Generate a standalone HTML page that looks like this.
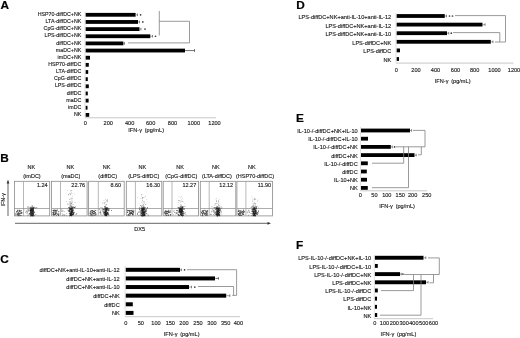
<!DOCTYPE html><html><head><meta charset="utf-8"><style>html,body{margin:0;padding:0;background:#fff;width:520px;height:338px;overflow:hidden}svg{display:block;font-family:"Liberation Sans",sans-serif;filter:grayscale(1) blur(0.3px)}</style></head><body>
<svg width="520" height="338" viewBox="0 0 520 338">
<rect width="520" height="338" fill="#fff"/>
<text x="0.60" y="9.10" font-size="11.8" text-anchor="start" fill="#000" font-weight="bold" stroke="#000" stroke-width="0.2" >A</text>
<rect x="85.50" y="12.90" width="50.10" height="3.80" fill="#000" />
<text x="81.30" y="15.95" font-size="5.3" text-anchor="end" fill="#1a1a1a" font-weight="normal" stroke="#1a1a1a" stroke-width="0.13" >HSP70-diffDC+NK</text>
<rect x="85.50" y="20.05" width="52.50" height="3.80" fill="#000" />
<text x="81.30" y="23.10" font-size="5.3" text-anchor="end" fill="#1a1a1a" font-weight="normal" stroke="#1a1a1a" stroke-width="0.13" >LTA-diffDC+NK</text>
<rect x="85.50" y="27.20" width="54.00" height="3.80" fill="#000" />
<text x="81.30" y="30.25" font-size="5.3" text-anchor="end" fill="#1a1a1a" font-weight="normal" stroke="#1a1a1a" stroke-width="0.13" >CpG-diffDC+NK</text>
<rect x="85.50" y="34.35" width="64.80" height="3.80" fill="#000" />
<text x="81.30" y="37.40" font-size="5.3" text-anchor="end" fill="#1a1a1a" font-weight="normal" stroke="#1a1a1a" stroke-width="0.13" >LPS-diffDC+NK</text>
<rect x="85.50" y="41.50" width="37.90" height="3.80" fill="#000" />
<text x="81.30" y="44.55" font-size="5.3" text-anchor="end" fill="#1a1a1a" font-weight="normal" stroke="#1a1a1a" stroke-width="0.13" >diffDC+NK</text>
<rect x="85.50" y="48.65" width="99.50" height="3.80" fill="#000" />
<text x="81.30" y="51.70" font-size="5.3" text-anchor="end" fill="#1a1a1a" font-weight="normal" stroke="#1a1a1a" stroke-width="0.13" >maDC+NK</text>
<rect x="85.50" y="55.80" width="4.50" height="3.80" fill="#000" />
<text x="81.30" y="58.85" font-size="5.3" text-anchor="end" fill="#1a1a1a" font-weight="normal" stroke="#1a1a1a" stroke-width="0.13" >imDC+NK</text>
<rect x="85.50" y="62.95" width="3.30" height="3.80" fill="#000" />
<text x="81.30" y="66.00" font-size="5.3" text-anchor="end" fill="#1a1a1a" font-weight="normal" stroke="#1a1a1a" stroke-width="0.13" >HSP70-diffDC</text>
<rect x="85.50" y="70.10" width="2.70" height="3.80" fill="#000" />
<text x="81.30" y="73.15" font-size="5.3" text-anchor="end" fill="#1a1a1a" font-weight="normal" stroke="#1a1a1a" stroke-width="0.13" >LTA-diffDC</text>
<rect x="85.50" y="77.25" width="2.30" height="3.80" fill="#000" />
<text x="81.30" y="80.30" font-size="5.3" text-anchor="end" fill="#1a1a1a" font-weight="normal" stroke="#1a1a1a" stroke-width="0.13" >CpG-diffDC</text>
<rect x="85.50" y="84.40" width="3.30" height="3.80" fill="#000" />
<text x="81.30" y="87.45" font-size="5.3" text-anchor="end" fill="#1a1a1a" font-weight="normal" stroke="#1a1a1a" stroke-width="0.13" >LPS-diffDC</text>
<rect x="85.50" y="91.55" width="2.30" height="3.80" fill="#000" />
<text x="81.30" y="94.60" font-size="5.3" text-anchor="end" fill="#1a1a1a" font-weight="normal" stroke="#1a1a1a" stroke-width="0.13" >diffDC</text>
<rect x="85.50" y="98.70" width="3.10" height="3.80" fill="#000" />
<text x="81.30" y="101.75" font-size="5.3" text-anchor="end" fill="#1a1a1a" font-weight="normal" stroke="#1a1a1a" stroke-width="0.13" >maDC</text>
<rect x="85.50" y="105.85" width="2.00" height="3.80" fill="#000" />
<text x="81.30" y="108.90" font-size="5.3" text-anchor="end" fill="#1a1a1a" font-weight="normal" stroke="#1a1a1a" stroke-width="0.13" >imDC</text>
<rect x="85.50" y="113.00" width="3.70" height="3.80" fill="#000" />
<text x="81.30" y="116.05" font-size="5.3" text-anchor="end" fill="#1a1a1a" font-weight="normal" stroke="#1a1a1a" stroke-width="0.13" >NK</text>
<line x1="85.00" y1="11.50" x2="85.00" y2="117.80" stroke="#dadada" stroke-width="0.8"/>
<line x1="85.00" y1="117.80" x2="216.00" y2="117.80" stroke="#c8c8c8" stroke-width="1.0"/>
<text x="85.40" y="125.00" font-size="5.6" text-anchor="middle" fill="#1a1a1a" font-weight="normal" stroke="#1a1a1a" stroke-width="0.13" >0</text>
<text x="108.20" y="125.00" font-size="5.6" text-anchor="middle" fill="#1a1a1a" font-weight="normal" stroke="#1a1a1a" stroke-width="0.13" >200</text>
<text x="129.60" y="125.00" font-size="5.6" text-anchor="middle" fill="#1a1a1a" font-weight="normal" stroke="#1a1a1a" stroke-width="0.13" >400</text>
<text x="150.60" y="125.00" font-size="5.6" text-anchor="middle" fill="#1a1a1a" font-weight="normal" stroke="#1a1a1a" stroke-width="0.13" >600</text>
<text x="172.50" y="125.00" font-size="5.6" text-anchor="middle" fill="#1a1a1a" font-weight="normal" stroke="#1a1a1a" stroke-width="0.13" >800</text>
<text x="193.80" y="125.00" font-size="5.6" text-anchor="middle" fill="#1a1a1a" font-weight="normal" stroke="#1a1a1a" stroke-width="0.13" >1000</text>
<text x="214.50" y="125.00" font-size="5.6" text-anchor="middle" fill="#1a1a1a" font-weight="normal" stroke="#1a1a1a" stroke-width="0.13" >1200</text>
<text x="128.30" y="132.20" font-size="5.6" fill="#1a1a1a" stroke="#1a1a1a" stroke-width="0.13">IFN-γ<tspan dx="2.76">(pg/mL)</tspan></text>
<line x1="135.60" y1="14.80" x2="137.50" y2="14.80" stroke="#666" stroke-width="0.6"/>
<line x1="137.50" y1="13.50" x2="137.50" y2="16.10" stroke="#555" stroke-width="0.7"/>
<circle cx="140.60" cy="14.80" r="0.85" fill="#3a3a3a"/>
<line x1="138.00" y1="21.95" x2="139.50" y2="21.95" stroke="#666" stroke-width="0.6"/>
<line x1="139.50" y1="20.65" x2="139.50" y2="23.25" stroke="#555" stroke-width="0.7"/>
<circle cx="142.80" cy="21.95" r="0.85" fill="#3a3a3a"/>
<line x1="139.50" y1="29.10" x2="141.00" y2="29.10" stroke="#666" stroke-width="0.6"/>
<line x1="141.00" y1="27.80" x2="141.00" y2="30.40" stroke="#555" stroke-width="0.7"/>
<circle cx="145.00" cy="29.10" r="0.85" fill="#3a3a3a"/>
<line x1="150.30" y1="36.25" x2="152.50" y2="36.25" stroke="#666" stroke-width="0.6"/>
<line x1="152.50" y1="34.95" x2="152.50" y2="37.55" stroke="#555" stroke-width="0.7"/>
<circle cx="155.50" cy="36.25" r="0.85" fill="#3a3a3a"/>
<line x1="123.40" y1="43.40" x2="124.50" y2="43.40" stroke="#666" stroke-width="0.6"/>
<line x1="124.50" y1="42.10" x2="124.50" y2="44.70" stroke="#555" stroke-width="0.7"/>
<line x1="185.00" y1="50.55" x2="194.50" y2="50.55" stroke="#444" stroke-width="0.75"/>
<line x1="194.50" y1="49.05" x2="194.50" y2="52.05" stroke="#444" stroke-width="0.7"/>
<line x1="159.30" y1="11.00" x2="159.30" y2="35.50" stroke="#808080" stroke-width="0.8"/>
<polyline points="159.30,21.30 189.50,21.30 189.50,42.90 128.00,42.90" fill="none" stroke="#808080" stroke-width="0.8"/>
<text x="0.20" y="161.50" font-size="11.8" text-anchor="start" fill="#000" font-weight="bold" stroke="#000" stroke-width="0.2" >B</text>
<line x1="8.00" y1="183.00" x2="8.00" y2="216.00" stroke="#888" stroke-width="1.3"/>
<polygon points="6.6,183.5 9.4,183.5 8,179.6" fill="#333"/>
<text x="0.00" y="0.00" font-size="5.5" text-anchor="middle" fill="#1a1a1a" font-weight="normal" stroke="#1a1a1a" stroke-width="0.13" transform="translate(5.2,199.8) rotate(-90)">IFN-γ</text>
<text x="31.25" y="168.90" font-size="5.5" text-anchor="middle" fill="#1a1a1a" font-weight="normal" stroke="#1a1a1a" stroke-width="0.13" >NK</text>
<text x="32.00" y="178.20" font-size="5.5" text-anchor="middle" fill="#1a1a1a" font-weight="normal" stroke="#1a1a1a" stroke-width="0.13" >(imDC)</text>
<rect x="14.40" y="181.30" width="35.30" height="34.60" fill="none" stroke="#8a8a8a" stroke-width="0.8"/>
<line x1="23.50" y1="181.30" x2="23.50" y2="215.90" stroke="#9a9a9a" stroke-width="0.7"/>
<line x1="14.40" y1="208.50" x2="49.70" y2="208.50" stroke="#8a8a8a" stroke-width="0.7"/>
<text x="47.60" y="187.10" font-size="5.5" text-anchor="end" fill="#1a1a1a" font-weight="normal" stroke="#1a1a1a" stroke-width="0.13" >1.24</text>
<text x="70.25" y="168.90" font-size="5.5" text-anchor="middle" fill="#1a1a1a" font-weight="normal" stroke="#1a1a1a" stroke-width="0.13" >NK</text>
<text x="70.75" y="178.20" font-size="5.5" text-anchor="middle" fill="#1a1a1a" font-weight="normal" stroke="#1a1a1a" stroke-width="0.13" >(maDC)</text>
<rect x="51.50" y="181.30" width="35.60" height="34.60" fill="none" stroke="#8a8a8a" stroke-width="0.8"/>
<line x1="60.50" y1="181.30" x2="60.50" y2="215.90" stroke="#9a9a9a" stroke-width="0.7"/>
<line x1="51.50" y1="208.50" x2="87.10" y2="208.50" stroke="#8a8a8a" stroke-width="0.7"/>
<text x="85.10" y="187.10" font-size="5.5" text-anchor="end" fill="#1a1a1a" font-weight="normal" stroke="#1a1a1a" stroke-width="0.13" >22.76</text>
<text x="106.50" y="168.90" font-size="5.5" text-anchor="middle" fill="#1a1a1a" font-weight="normal" stroke="#1a1a1a" stroke-width="0.13" >NK</text>
<text x="107.75" y="178.20" font-size="5.5" text-anchor="middle" fill="#1a1a1a" font-weight="normal" stroke="#1a1a1a" stroke-width="0.13" >(diffDC)</text>
<rect x="88.60" y="181.30" width="35.60" height="34.60" fill="none" stroke="#8a8a8a" stroke-width="0.8"/>
<line x1="98.30" y1="181.30" x2="98.30" y2="215.90" stroke="#9a9a9a" stroke-width="0.7"/>
<line x1="88.60" y1="208.50" x2="124.20" y2="208.50" stroke="#8a8a8a" stroke-width="0.7"/>
<text x="121.20" y="187.10" font-size="5.5" text-anchor="end" fill="#1a1a1a" font-weight="normal" stroke="#1a1a1a" stroke-width="0.13" >8.60</text>
<text x="142.40" y="168.90" font-size="5.5" text-anchor="middle" fill="#1a1a1a" font-weight="normal" stroke="#1a1a1a" stroke-width="0.13" >NK</text>
<text x="143.75" y="178.20" font-size="5.5" text-anchor="middle" fill="#1a1a1a" font-weight="normal" stroke="#1a1a1a" stroke-width="0.13" >(LPS-diffDC)</text>
<rect x="126.30" y="181.30" width="35.50" height="34.60" fill="none" stroke="#8a8a8a" stroke-width="0.8"/>
<line x1="135.40" y1="181.30" x2="135.40" y2="215.90" stroke="#9a9a9a" stroke-width="0.7"/>
<line x1="126.30" y1="208.50" x2="161.80" y2="208.50" stroke="#8a8a8a" stroke-width="0.7"/>
<text x="160.10" y="187.10" font-size="5.5" text-anchor="end" fill="#1a1a1a" font-weight="normal" stroke="#1a1a1a" stroke-width="0.13" >16.30</text>
<text x="180.00" y="168.90" font-size="5.5" text-anchor="middle" fill="#1a1a1a" font-weight="normal" stroke="#1a1a1a" stroke-width="0.13" >NK</text>
<text x="181.25" y="178.20" font-size="5.5" text-anchor="middle" fill="#1a1a1a" font-weight="normal" stroke="#1a1a1a" stroke-width="0.13" >(CpG-diffDC)</text>
<rect x="163.20" y="181.30" width="35.40" height="34.60" fill="none" stroke="#8a8a8a" stroke-width="0.8"/>
<line x1="172.00" y1="181.30" x2="172.00" y2="215.90" stroke="#9a9a9a" stroke-width="0.7"/>
<line x1="163.20" y1="208.50" x2="198.60" y2="208.50" stroke="#8a8a8a" stroke-width="0.7"/>
<text x="196.20" y="187.10" font-size="5.5" text-anchor="end" fill="#1a1a1a" font-weight="normal" stroke="#1a1a1a" stroke-width="0.13" >12.27</text>
<text x="215.75" y="168.90" font-size="5.5" text-anchor="middle" fill="#1a1a1a" font-weight="normal" stroke="#1a1a1a" stroke-width="0.13" >NK</text>
<text x="216.90" y="178.20" font-size="5.5" text-anchor="middle" fill="#1a1a1a" font-weight="normal" stroke="#1a1a1a" stroke-width="0.13" >(LTA-diffDC)</text>
<rect x="200.30" y="181.30" width="35.50" height="34.60" fill="none" stroke="#8a8a8a" stroke-width="0.8"/>
<line x1="209.20" y1="181.30" x2="209.20" y2="215.90" stroke="#9a9a9a" stroke-width="0.7"/>
<line x1="200.30" y1="208.50" x2="235.80" y2="208.50" stroke="#8a8a8a" stroke-width="0.7"/>
<text x="233.10" y="187.10" font-size="5.5" text-anchor="end" fill="#1a1a1a" font-weight="normal" stroke="#1a1a1a" stroke-width="0.13" >12.12</text>
<text x="251.75" y="168.90" font-size="5.5" text-anchor="middle" fill="#1a1a1a" font-weight="normal" stroke="#1a1a1a" stroke-width="0.13" >NK</text>
<text x="255.00" y="178.20" font-size="5.5" text-anchor="middle" fill="#1a1a1a" font-weight="normal" stroke="#1a1a1a" stroke-width="0.13" >(HSP70-diffDC)</text>
<rect x="236.90" y="181.30" width="35.50" height="34.60" fill="none" stroke="#8a8a8a" stroke-width="0.8"/>
<line x1="245.90" y1="181.30" x2="245.90" y2="215.90" stroke="#9a9a9a" stroke-width="0.7"/>
<line x1="236.90" y1="208.50" x2="272.40" y2="208.50" stroke="#8a8a8a" stroke-width="0.7"/>
<text x="271.20" y="187.10" font-size="5.5" text-anchor="end" fill="#1a1a1a" font-weight="normal" stroke="#1a1a1a" stroke-width="0.13" >11.90</text>
<path fill="#4a4a4a" d="M16.7 212.8h0.8v0.8h-0.8zM17.6 213.1h0.8v0.8h-0.8zM19.2 210.0h0.8v0.8h-0.8zM15.3 214.5h0.8v0.8h-0.8zM16.9 211.0h0.8v0.8h-0.8zM21.6 212.3h0.8v0.8h-0.8zM20.6 212.4h0.8v0.8h-0.8zM19.3 210.5h0.8v0.8h-0.8zM19.3 214.6h0.8v0.8h-0.8zM18.5 213.9h0.8v0.8h-0.8zM19.5 210.0h0.8v0.8h-0.8zM20.1 213.0h0.8v0.8h-0.8zM17.1 209.8h0.8v0.8h-0.8zM20.7 212.3h0.8v0.8h-0.8zM19.8 214.7h0.8v0.8h-0.8zM19.8 214.9h0.8v0.8h-0.8zM17.7 214.2h0.8v0.8h-0.8zM18.0 215.0h0.8v0.8h-0.8zM20.8 210.2h0.8v0.8h-0.8zM16.1 210.9h0.8v0.8h-0.8zM21.4 212.1h0.8v0.8h-0.8zM19.2 211.3h0.8v0.8h-0.8zM18.4 211.8h0.8v0.8h-0.8zM17.4 213.0h0.8v0.8h-0.8zM18.9 214.8h0.8v0.8h-0.8zM19.6 215.0h0.8v0.8h-0.8zM20.7 215.3h0.8v0.8h-0.8zM19.5 210.5h0.8v0.8h-0.8zM20.7 215.2h0.8v0.8h-0.8zM21.0 212.9h0.8v0.8h-0.8zM19.8 210.8h0.8v0.8h-0.8zM20.5 212.9h0.8v0.8h-0.8zM17.0 210.0h0.8v0.8h-0.8zM20.7 215.3h0.8v0.8h-0.8zM15.8 214.2h0.8v0.8h-0.8zM17.8 210.5h0.8v0.8h-0.8zM17.1 214.1h0.8v0.8h-0.8zM20.8 209.9h0.8v0.8h-0.8zM19.1 209.9h0.8v0.8h-0.8zM19.8 211.5h0.8v0.8h-0.8zM20.8 215.3h0.8v0.8h-0.8zM18.4 215.4h0.8v0.8h-0.8zM17.2 210.0h0.8v0.8h-0.8zM19.0 209.8h0.8v0.8h-0.8zM16.5 212.0h0.8v0.8h-0.8zM19.1 210.5h0.8v0.8h-0.8zM15.5 214.6h0.8v0.8h-0.8zM17.2 215.2h0.8v0.8h-0.8zM20.9 211.8h0.8v0.8h-0.8zM18.1 212.6h0.8v0.8h-0.8zM19.3 213.1h0.8v0.8h-0.8zM18.8 213.2h0.8v0.8h-0.8zM21.2 212.5h0.8v0.8h-0.8zM18.0 213.8h0.8v0.8h-0.8zM16.7 211.3h0.8v0.8h-0.8zM21.5 212.6h0.8v0.8h-0.8zM18.7 209.7h0.8v0.8h-0.8zM17.9 213.0h0.8v0.8h-0.8zM15.3 213.2h0.8v0.8h-0.8zM19.2 209.9h0.8v0.8h-0.8zM53.2 211.9h0.8v0.8h-0.8zM53.5 212.7h0.8v0.8h-0.8zM55.9 210.8h0.8v0.8h-0.8zM53.9 214.1h0.8v0.8h-0.8zM52.5 214.3h0.8v0.8h-0.8zM58.0 215.1h0.8v0.8h-0.8zM54.8 212.8h0.8v0.8h-0.8zM56.0 213.3h0.8v0.8h-0.8zM58.6 213.6h0.8v0.8h-0.8zM54.2 214.6h0.8v0.8h-0.8zM55.4 213.1h0.8v0.8h-0.8zM57.0 209.6h0.8v0.8h-0.8zM57.2 213.4h0.8v0.8h-0.8zM55.4 212.6h0.8v0.8h-0.8zM55.2 210.7h0.8v0.8h-0.8zM55.7 209.8h0.8v0.8h-0.8zM55.5 213.3h0.8v0.8h-0.8zM55.1 212.9h0.8v0.8h-0.8zM58.4 214.8h0.8v0.8h-0.8zM53.2 214.2h0.8v0.8h-0.8zM56.3 209.9h0.8v0.8h-0.8zM54.6 211.0h0.8v0.8h-0.8zM52.8 212.7h0.8v0.8h-0.8zM58.3 211.5h0.8v0.8h-0.8zM57.9 213.6h0.8v0.8h-0.8zM53.2 214.6h0.8v0.8h-0.8zM56.1 215.0h0.8v0.8h-0.8zM56.9 213.9h0.8v0.8h-0.8zM54.5 214.3h0.8v0.8h-0.8zM58.3 214.6h0.8v0.8h-0.8zM55.1 214.0h0.8v0.8h-0.8zM55.4 210.2h0.8v0.8h-0.8zM52.6 210.1h0.8v0.8h-0.8zM53.6 210.5h0.8v0.8h-0.8zM55.5 213.7h0.8v0.8h-0.8zM55.7 212.0h0.8v0.8h-0.8zM56.5 211.4h0.8v0.8h-0.8zM55.3 214.0h0.8v0.8h-0.8zM54.9 210.6h0.8v0.8h-0.8zM58.1 213.8h0.8v0.8h-0.8zM54.6 211.8h0.8v0.8h-0.8zM55.7 213.1h0.8v0.8h-0.8zM53.7 209.6h0.8v0.8h-0.8zM53.6 214.1h0.8v0.8h-0.8zM53.2 212.3h0.8v0.8h-0.8zM53.5 210.8h0.8v0.8h-0.8zM53.4 211.9h0.8v0.8h-0.8zM53.4 209.8h0.8v0.8h-0.8zM53.0 210.6h0.8v0.8h-0.8zM55.4 209.9h0.8v0.8h-0.8zM52.4 212.2h0.8v0.8h-0.8zM54.9 213.7h0.8v0.8h-0.8zM52.6 211.9h0.8v0.8h-0.8zM54.8 209.8h0.8v0.8h-0.8zM58.5 210.9h0.8v0.8h-0.8zM52.9 212.4h0.8v0.8h-0.8zM53.4 213.2h0.8v0.8h-0.8zM54.5 210.3h0.8v0.8h-0.8zM52.6 213.8h0.8v0.8h-0.8zM54.1 214.2h0.8v0.8h-0.8zM93.1 214.7h0.8v0.8h-0.8zM90.7 211.9h0.8v0.8h-0.8zM90.0 213.3h0.8v0.8h-0.8zM89.6 215.0h0.8v0.8h-0.8zM92.8 212.9h0.8v0.8h-0.8zM89.9 210.9h0.8v0.8h-0.8zM92.4 214.6h0.8v0.8h-0.8zM92.8 211.3h0.8v0.8h-0.8zM95.7 213.4h0.8v0.8h-0.8zM92.8 210.8h0.8v0.8h-0.8zM91.3 214.8h0.8v0.8h-0.8zM90.3 212.7h0.8v0.8h-0.8zM93.4 211.7h0.8v0.8h-0.8zM94.3 214.9h0.8v0.8h-0.8zM94.9 213.9h0.8v0.8h-0.8zM90.7 209.9h0.8v0.8h-0.8zM92.2 211.4h0.8v0.8h-0.8zM90.6 214.7h0.8v0.8h-0.8zM90.8 214.4h0.8v0.8h-0.8zM95.4 210.3h0.8v0.8h-0.8zM95.2 211.9h0.8v0.8h-0.8zM90.8 210.7h0.8v0.8h-0.8zM89.6 212.5h0.8v0.8h-0.8zM91.9 214.5h0.8v0.8h-0.8zM94.7 209.9h0.8v0.8h-0.8zM92.0 211.9h0.8v0.8h-0.8zM90.5 211.1h0.8v0.8h-0.8zM91.1 213.6h0.8v0.8h-0.8zM91.6 210.2h0.8v0.8h-0.8zM90.8 212.2h0.8v0.8h-0.8zM93.0 211.0h0.8v0.8h-0.8zM93.9 210.8h0.8v0.8h-0.8zM93.7 213.1h0.8v0.8h-0.8zM90.5 214.0h0.8v0.8h-0.8zM91.9 212.7h0.8v0.8h-0.8zM93.2 213.2h0.8v0.8h-0.8zM92.2 209.9h0.8v0.8h-0.8zM94.4 214.6h0.8v0.8h-0.8zM92.5 213.0h0.8v0.8h-0.8zM91.1 214.8h0.8v0.8h-0.8zM93.8 210.9h0.8v0.8h-0.8zM94.6 215.3h0.8v0.8h-0.8zM91.6 215.4h0.8v0.8h-0.8zM92.5 210.6h0.8v0.8h-0.8zM94.0 211.6h0.8v0.8h-0.8zM94.1 213.0h0.8v0.8h-0.8zM90.1 212.7h0.8v0.8h-0.8zM94.8 212.4h0.8v0.8h-0.8zM92.9 214.6h0.8v0.8h-0.8zM92.3 212.5h0.8v0.8h-0.8zM93.1 214.4h0.8v0.8h-0.8zM90.7 210.1h0.8v0.8h-0.8zM94.3 212.8h0.8v0.8h-0.8zM91.3 214.8h0.8v0.8h-0.8zM95.1 212.7h0.8v0.8h-0.8zM95.7 214.4h0.8v0.8h-0.8zM94.2 211.3h0.8v0.8h-0.8zM89.5 213.5h0.8v0.8h-0.8zM94.1 211.6h0.8v0.8h-0.8zM92.5 212.9h0.8v0.8h-0.8zM129.9 211.9h0.8v0.8h-0.8zM130.4 213.7h0.8v0.8h-0.8zM129.1 211.6h0.8v0.8h-0.8zM132.0 214.1h0.8v0.8h-0.8zM129.0 210.0h0.8v0.8h-0.8zM133.0 213.8h0.8v0.8h-0.8zM130.9 211.9h0.8v0.8h-0.8zM133.2 212.1h0.8v0.8h-0.8zM128.5 210.2h0.8v0.8h-0.8zM129.3 213.1h0.8v0.8h-0.8zM129.4 215.1h0.8v0.8h-0.8zM131.3 212.3h0.8v0.8h-0.8zM131.3 213.1h0.8v0.8h-0.8zM131.1 212.5h0.8v0.8h-0.8zM130.4 212.4h0.8v0.8h-0.8zM132.4 210.7h0.8v0.8h-0.8zM132.1 211.3h0.8v0.8h-0.8zM132.5 210.0h0.8v0.8h-0.8zM130.2 212.2h0.8v0.8h-0.8zM131.7 210.8h0.8v0.8h-0.8zM128.8 210.4h0.8v0.8h-0.8zM130.7 212.9h0.8v0.8h-0.8zM127.1 210.6h0.8v0.8h-0.8zM128.4 215.2h0.8v0.8h-0.8zM130.0 212.9h0.8v0.8h-0.8zM129.0 213.4h0.8v0.8h-0.8zM132.3 213.5h0.8v0.8h-0.8zM127.1 212.1h0.8v0.8h-0.8zM130.2 209.9h0.8v0.8h-0.8zM132.2 211.4h0.8v0.8h-0.8zM129.0 213.2h0.8v0.8h-0.8zM130.8 212.5h0.8v0.8h-0.8zM132.6 212.6h0.8v0.8h-0.8zM129.3 210.0h0.8v0.8h-0.8zM130.6 211.7h0.8v0.8h-0.8zM130.5 211.6h0.8v0.8h-0.8zM127.1 209.8h0.8v0.8h-0.8zM128.1 210.1h0.8v0.8h-0.8zM132.5 213.0h0.8v0.8h-0.8zM128.6 213.7h0.8v0.8h-0.8zM131.2 210.0h0.8v0.8h-0.8zM131.9 210.9h0.8v0.8h-0.8zM133.5 210.4h0.8v0.8h-0.8zM128.9 211.0h0.8v0.8h-0.8zM132.6 214.3h0.8v0.8h-0.8zM130.8 210.5h0.8v0.8h-0.8zM129.8 213.7h0.8v0.8h-0.8zM127.5 214.9h0.8v0.8h-0.8zM132.5 215.0h0.8v0.8h-0.8zM131.6 213.2h0.8v0.8h-0.8zM133.3 211.1h0.8v0.8h-0.8zM129.1 210.3h0.8v0.8h-0.8zM128.3 214.2h0.8v0.8h-0.8zM127.7 213.9h0.8v0.8h-0.8zM129.6 214.7h0.8v0.8h-0.8zM132.0 213.6h0.8v0.8h-0.8zM132.5 209.8h0.8v0.8h-0.8zM128.8 211.7h0.8v0.8h-0.8zM129.8 213.5h0.8v0.8h-0.8zM132.7 213.9h0.8v0.8h-0.8zM164.9 213.1h0.8v0.8h-0.8zM169.4 212.2h0.8v0.8h-0.8zM165.7 213.2h0.8v0.8h-0.8zM168.5 209.9h0.8v0.8h-0.8zM165.5 211.8h0.8v0.8h-0.8zM167.2 211.2h0.8v0.8h-0.8zM168.2 211.1h0.8v0.8h-0.8zM169.8 211.6h0.8v0.8h-0.8zM165.4 210.1h0.8v0.8h-0.8zM164.8 210.9h0.8v0.8h-0.8zM169.6 212.0h0.8v0.8h-0.8zM166.8 215.2h0.8v0.8h-0.8zM170.2 214.0h0.8v0.8h-0.8zM165.5 211.5h0.8v0.8h-0.8zM167.2 211.1h0.8v0.8h-0.8zM166.2 210.8h0.8v0.8h-0.8zM165.5 213.9h0.8v0.8h-0.8zM167.9 212.2h0.8v0.8h-0.8zM167.0 213.2h0.8v0.8h-0.8zM168.4 209.7h0.8v0.8h-0.8zM169.4 212.3h0.8v0.8h-0.8zM166.2 215.2h0.8v0.8h-0.8zM168.8 211.6h0.8v0.8h-0.8zM164.2 212.1h0.8v0.8h-0.8zM166.8 211.8h0.8v0.8h-0.8zM164.6 212.9h0.8v0.8h-0.8zM165.6 214.0h0.8v0.8h-0.8zM167.4 211.3h0.8v0.8h-0.8zM169.3 212.2h0.8v0.8h-0.8zM164.5 211.2h0.8v0.8h-0.8zM164.3 212.1h0.8v0.8h-0.8zM169.8 215.1h0.8v0.8h-0.8zM168.2 210.5h0.8v0.8h-0.8zM165.5 210.8h0.8v0.8h-0.8zM166.4 213.3h0.8v0.8h-0.8zM164.1 212.4h0.8v0.8h-0.8zM166.7 213.4h0.8v0.8h-0.8zM169.3 211.9h0.8v0.8h-0.8zM167.9 211.2h0.8v0.8h-0.8zM166.9 213.3h0.8v0.8h-0.8zM164.3 212.6h0.8v0.8h-0.8zM167.2 210.7h0.8v0.8h-0.8zM165.6 214.4h0.8v0.8h-0.8zM166.2 210.7h0.8v0.8h-0.8zM165.8 212.6h0.8v0.8h-0.8zM166.6 211.6h0.8v0.8h-0.8zM166.1 210.9h0.8v0.8h-0.8zM167.2 213.1h0.8v0.8h-0.8zM164.6 213.0h0.8v0.8h-0.8zM166.0 215.3h0.8v0.8h-0.8zM170.0 210.4h0.8v0.8h-0.8zM168.5 211.6h0.8v0.8h-0.8zM164.7 214.7h0.8v0.8h-0.8zM169.8 214.2h0.8v0.8h-0.8zM168.1 215.3h0.8v0.8h-0.8zM167.6 213.5h0.8v0.8h-0.8zM168.2 214.6h0.8v0.8h-0.8zM169.5 211.4h0.8v0.8h-0.8zM165.3 212.8h0.8v0.8h-0.8zM167.8 211.6h0.8v0.8h-0.8zM203.0 212.7h0.8v0.8h-0.8zM201.6 213.1h0.8v0.8h-0.8zM204.0 214.1h0.8v0.8h-0.8zM206.6 209.9h0.8v0.8h-0.8zM207.3 210.6h0.8v0.8h-0.8zM207.3 215.3h0.8v0.8h-0.8zM202.5 211.3h0.8v0.8h-0.8zM202.0 214.9h0.8v0.8h-0.8zM205.9 215.2h0.8v0.8h-0.8zM206.3 211.7h0.8v0.8h-0.8zM206.1 211.7h0.8v0.8h-0.8zM203.2 212.1h0.8v0.8h-0.8zM205.6 211.4h0.8v0.8h-0.8zM204.7 212.9h0.8v0.8h-0.8zM206.2 212.3h0.8v0.8h-0.8zM203.8 212.8h0.8v0.8h-0.8zM204.0 213.8h0.8v0.8h-0.8zM201.8 210.6h0.8v0.8h-0.8zM201.3 212.0h0.8v0.8h-0.8zM206.5 213.1h0.8v0.8h-0.8zM205.2 215.0h0.8v0.8h-0.8zM206.4 211.3h0.8v0.8h-0.8zM202.5 212.7h0.8v0.8h-0.8zM202.6 213.1h0.8v0.8h-0.8zM201.6 211.9h0.8v0.8h-0.8zM205.7 211.1h0.8v0.8h-0.8zM202.1 213.9h0.8v0.8h-0.8zM202.3 214.8h0.8v0.8h-0.8zM205.0 214.8h0.8v0.8h-0.8zM204.5 212.4h0.8v0.8h-0.8zM202.8 209.9h0.8v0.8h-0.8zM207.2 210.9h0.8v0.8h-0.8zM201.6 215.0h0.8v0.8h-0.8zM204.5 213.0h0.8v0.8h-0.8zM207.0 213.8h0.8v0.8h-0.8zM202.8 211.2h0.8v0.8h-0.8zM205.3 213.5h0.8v0.8h-0.8zM202.5 211.0h0.8v0.8h-0.8zM204.4 209.9h0.8v0.8h-0.8zM206.2 213.4h0.8v0.8h-0.8zM202.1 213.0h0.8v0.8h-0.8zM204.9 210.1h0.8v0.8h-0.8zM203.9 214.2h0.8v0.8h-0.8zM204.0 213.8h0.8v0.8h-0.8zM202.6 215.4h0.8v0.8h-0.8zM205.4 212.8h0.8v0.8h-0.8zM201.2 211.7h0.8v0.8h-0.8zM201.1 212.1h0.8v0.8h-0.8zM202.2 211.0h0.8v0.8h-0.8zM203.1 210.4h0.8v0.8h-0.8zM202.9 212.5h0.8v0.8h-0.8zM202.0 212.9h0.8v0.8h-0.8zM207.2 213.8h0.8v0.8h-0.8zM207.2 210.2h0.8v0.8h-0.8zM205.3 211.0h0.8v0.8h-0.8zM207.1 212.5h0.8v0.8h-0.8zM205.7 214.1h0.8v0.8h-0.8zM201.9 210.2h0.8v0.8h-0.8zM206.3 214.4h0.8v0.8h-0.8zM203.9 209.7h0.8v0.8h-0.8zM239.2 212.9h0.8v0.8h-0.8zM239.9 215.3h0.8v0.8h-0.8zM241.3 211.6h0.8v0.8h-0.8zM238.9 212.4h0.8v0.8h-0.8zM242.6 213.8h0.8v0.8h-0.8zM242.2 212.6h0.8v0.8h-0.8zM243.7 211.9h0.8v0.8h-0.8zM241.2 215.1h0.8v0.8h-0.8zM242.8 212.3h0.8v0.8h-0.8zM242.8 214.1h0.8v0.8h-0.8zM239.6 211.9h0.8v0.8h-0.8zM242.5 211.8h0.8v0.8h-0.8zM239.9 212.7h0.8v0.8h-0.8zM238.2 211.1h0.8v0.8h-0.8zM244.0 211.0h0.8v0.8h-0.8zM242.9 209.6h0.8v0.8h-0.8zM239.7 212.6h0.8v0.8h-0.8zM239.7 215.1h0.8v0.8h-0.8zM243.8 211.3h0.8v0.8h-0.8zM238.6 214.9h0.8v0.8h-0.8zM242.8 212.6h0.8v0.8h-0.8zM238.1 209.7h0.8v0.8h-0.8zM242.1 213.6h0.8v0.8h-0.8zM240.7 211.5h0.8v0.8h-0.8zM239.5 211.8h0.8v0.8h-0.8zM240.4 213.2h0.8v0.8h-0.8zM240.4 211.6h0.8v0.8h-0.8zM239.1 213.4h0.8v0.8h-0.8zM243.7 210.7h0.8v0.8h-0.8zM242.6 213.3h0.8v0.8h-0.8zM239.2 210.4h0.8v0.8h-0.8zM243.1 210.5h0.8v0.8h-0.8zM238.5 210.1h0.8v0.8h-0.8zM242.9 211.8h0.8v0.8h-0.8zM237.7 211.2h0.8v0.8h-0.8zM241.0 212.4h0.8v0.8h-0.8zM238.6 214.5h0.8v0.8h-0.8zM242.2 211.2h0.8v0.8h-0.8zM239.7 211.1h0.8v0.8h-0.8zM237.8 213.1h0.8v0.8h-0.8zM239.5 213.4h0.8v0.8h-0.8zM243.1 211.5h0.8v0.8h-0.8zM239.5 211.7h0.8v0.8h-0.8zM240.7 209.9h0.8v0.8h-0.8zM240.2 211.4h0.8v0.8h-0.8zM238.4 214.4h0.8v0.8h-0.8zM242.2 212.4h0.8v0.8h-0.8zM238.2 213.8h0.8v0.8h-0.8zM240.1 214.7h0.8v0.8h-0.8zM241.8 211.0h0.8v0.8h-0.8zM242.5 213.0h0.8v0.8h-0.8zM240.0 214.2h0.8v0.8h-0.8zM239.8 210.4h0.8v0.8h-0.8zM238.0 213.2h0.8v0.8h-0.8zM239.5 210.5h0.8v0.8h-0.8zM238.0 214.1h0.8v0.8h-0.8zM239.5 214.6h0.8v0.8h-0.8zM243.4 214.3h0.8v0.8h-0.8zM239.1 215.1h0.8v0.8h-0.8zM241.7 214.5h0.8v0.8h-0.8z"/>
<path fill="#555" d="M27.4 212.1h0.6v0.6h-0.6zM27.7 211.4h0.6v0.6h-0.6zM27.8 213.7h0.6v0.6h-0.6zM24.4 209.7h0.6v0.6h-0.6zM27.7 215.1h0.6v0.6h-0.6zM25.6 212.0h0.6v0.6h-0.6zM27.3 211.2h0.6v0.6h-0.6zM26.1 211.2h0.6v0.6h-0.6zM26.1 212.9h0.6v0.6h-0.6zM25.8 211.6h0.6v0.6h-0.6zM28.2 209.5h0.6v0.6h-0.6zM27.1 213.7h0.6v0.6h-0.6zM25.9 210.6h0.6v0.6h-0.6zM28.3 210.7h0.6v0.6h-0.6zM25.2 211.9h0.6v0.6h-0.6zM27.8 209.9h0.6v0.6h-0.6zM63.6 214.9h0.6v0.6h-0.6zM62.8 210.8h0.6v0.6h-0.6zM62.6 214.2h0.6v0.6h-0.6zM64.4 211.4h0.6v0.6h-0.6zM61.8 213.4h0.6v0.6h-0.6zM66.1 212.9h0.6v0.6h-0.6zM61.3 209.5h0.6v0.6h-0.6zM61.8 210.3h0.6v0.6h-0.6zM61.5 209.6h0.6v0.6h-0.6zM64.6 214.7h0.6v0.6h-0.6zM62.3 215.1h0.6v0.6h-0.6zM63.7 214.1h0.6v0.6h-0.6zM65.9 214.9h0.6v0.6h-0.6zM61.5 211.1h0.6v0.6h-0.6zM64.3 215.0h0.6v0.6h-0.6zM61.7 211.1h0.6v0.6h-0.6zM100.3 213.5h0.6v0.6h-0.6zM101.9 211.6h0.6v0.6h-0.6zM99.6 212.6h0.6v0.6h-0.6zM100.7 213.6h0.6v0.6h-0.6zM100.0 211.7h0.6v0.6h-0.6zM100.1 211.7h0.6v0.6h-0.6zM102.0 209.9h0.6v0.6h-0.6zM99.4 212.2h0.6v0.6h-0.6zM100.1 212.3h0.6v0.6h-0.6zM99.9 209.9h0.6v0.6h-0.6zM101.8 214.8h0.6v0.6h-0.6zM103.4 212.4h0.6v0.6h-0.6zM101.1 209.7h0.6v0.6h-0.6zM100.5 211.2h0.6v0.6h-0.6zM103.8 210.0h0.6v0.6h-0.6zM103.8 212.2h0.6v0.6h-0.6zM140.8 213.5h0.6v0.6h-0.6zM138.0 212.3h0.6v0.6h-0.6zM139.9 214.2h0.6v0.6h-0.6zM138.0 211.4h0.6v0.6h-0.6zM139.3 210.7h0.6v0.6h-0.6zM140.6 209.3h0.6v0.6h-0.6zM139.4 212.2h0.6v0.6h-0.6zM137.2 212.7h0.6v0.6h-0.6zM138.6 215.1h0.6v0.6h-0.6zM140.6 212.8h0.6v0.6h-0.6zM140.6 214.6h0.6v0.6h-0.6zM137.0 214.3h0.6v0.6h-0.6zM140.4 215.2h0.6v0.6h-0.6zM140.0 211.7h0.6v0.6h-0.6zM137.2 213.2h0.6v0.6h-0.6zM137.3 213.8h0.6v0.6h-0.6zM177.1 214.4h0.6v0.6h-0.6zM176.2 212.5h0.6v0.6h-0.6zM176.3 210.5h0.6v0.6h-0.6zM176.8 210.1h0.6v0.6h-0.6zM177.3 213.1h0.6v0.6h-0.6zM174.2 210.4h0.6v0.6h-0.6zM175.8 212.1h0.6v0.6h-0.6zM176.3 209.9h0.6v0.6h-0.6zM177.2 211.9h0.6v0.6h-0.6zM175.0 213.7h0.6v0.6h-0.6zM175.8 212.0h0.6v0.6h-0.6zM174.3 212.1h0.6v0.6h-0.6zM173.0 210.8h0.6v0.6h-0.6zM176.9 210.0h0.6v0.6h-0.6zM173.2 214.4h0.6v0.6h-0.6zM174.7 212.5h0.6v0.6h-0.6zM210.1 214.1h0.6v0.6h-0.6zM213.5 211.5h0.6v0.6h-0.6zM213.4 214.1h0.6v0.6h-0.6zM210.0 213.8h0.6v0.6h-0.6zM214.9 214.5h0.6v0.6h-0.6zM214.4 211.9h0.6v0.6h-0.6zM213.0 210.0h0.6v0.6h-0.6zM214.0 213.3h0.6v0.6h-0.6zM212.0 209.6h0.6v0.6h-0.6zM210.9 211.7h0.6v0.6h-0.6zM214.6 212.1h0.6v0.6h-0.6zM214.3 210.4h0.6v0.6h-0.6zM211.3 210.7h0.6v0.6h-0.6zM211.4 214.1h0.6v0.6h-0.6zM211.8 211.2h0.6v0.6h-0.6zM213.4 212.0h0.6v0.6h-0.6zM251.2 211.2h0.6v0.6h-0.6zM248.6 214.7h0.6v0.6h-0.6zM248.2 209.9h0.6v0.6h-0.6zM246.9 212.6h0.6v0.6h-0.6zM248.2 215.0h0.6v0.6h-0.6zM246.8 211.7h0.6v0.6h-0.6zM250.3 212.9h0.6v0.6h-0.6zM250.9 213.2h0.6v0.6h-0.6zM251.1 215.1h0.6v0.6h-0.6zM251.0 212.9h0.6v0.6h-0.6zM248.7 212.5h0.6v0.6h-0.6zM247.8 210.8h0.6v0.6h-0.6zM249.3 211.9h0.6v0.6h-0.6zM248.6 209.8h0.6v0.6h-0.6zM251.6 211.3h0.6v0.6h-0.6zM249.1 211.4h0.6v0.6h-0.6z"/>
<path fill="#6a6a6a" d="M30.8 207.4h0.8v0.8h-0.8zM33.2 210.7h0.8v0.8h-0.8zM32.3 211.6h0.8v0.8h-0.8zM30.6 208.9h0.8v0.8h-0.8zM33.2 212.7h0.8v0.8h-0.8zM30.2 213.8h0.8v0.8h-0.8zM30.3 207.6h0.8v0.8h-0.8zM31.4 207.3h0.8v0.8h-0.8zM32.3 207.6h0.8v0.8h-0.8zM33.1 208.9h0.8v0.8h-0.8zM32.2 213.7h0.8v0.8h-0.8zM29.9 212.1h0.8v0.8h-0.8zM32.0 211.5h0.8v0.8h-0.8zM30.1 210.9h0.8v0.8h-0.8zM29.8 206.7h0.8v0.8h-0.8zM32.6 213.5h0.8v0.8h-0.8zM36.4 207.0h0.8v0.8h-0.8zM31.7 206.2h0.8v0.8h-0.8zM27.1 206.7h0.8v0.8h-0.8zM33.6 212.7h0.8v0.8h-0.8zM31.5 208.8h0.8v0.8h-0.8zM27.8 210.0h0.8v0.8h-0.8zM31.2 212.7h0.8v0.8h-0.8zM33.4 214.5h0.8v0.8h-0.8zM30.2 207.6h0.8v0.8h-0.8zM30.7 214.8h0.8v0.8h-0.8zM34.1 206.7h0.8v0.8h-0.8zM29.8 206.9h0.8v0.8h-0.8zM33.7 215.3h0.8v0.8h-0.8zM30.1 208.1h0.8v0.8h-0.8zM32.4 208.8h0.8v0.8h-0.8zM33.1 209.9h0.8v0.8h-0.8zM27.5 209.2h0.8v0.8h-0.8zM34.0 211.6h0.8v0.8h-0.8zM31.5 210.3h0.8v0.8h-0.8zM35.6 207.8h0.8v0.8h-0.8zM30.8 209.8h0.8v0.8h-0.8zM32.7 207.5h0.8v0.8h-0.8zM33.3 206.7h0.8v0.8h-0.8zM34.7 207.6h0.8v0.8h-0.8zM31.7 209.0h0.8v0.8h-0.8zM31.4 207.2h0.8v0.8h-0.8zM33.1 212.3h0.8v0.8h-0.8zM32.1 209.9h0.8v0.8h-0.8zM29.6 207.8h0.8v0.8h-0.8zM32.7 215.5h0.8v0.8h-0.8zM32.6 213.8h0.8v0.8h-0.8zM32.0 214.5h0.8v0.8h-0.8zM35.5 214.3h0.8v0.8h-0.8zM31.0 210.1h0.8v0.8h-0.8zM30.9 211.5h0.8v0.8h-0.8zM33.2 208.9h0.8v0.8h-0.8zM30.0 213.1h0.8v0.8h-0.8zM30.6 211.7h0.8v0.8h-0.8zM33.4 208.3h0.8v0.8h-0.8zM33.4 211.2h0.8v0.8h-0.8zM32.7 211.3h0.8v0.8h-0.8zM32.2 209.2h0.8v0.8h-0.8zM32.0 207.6h0.8v0.8h-0.8zM29.7 209.1h0.8v0.8h-0.8zM29.8 210.2h0.8v0.8h-0.8zM32.4 208.4h0.8v0.8h-0.8zM28.9 210.5h0.8v0.8h-0.8zM33.1 212.5h0.8v0.8h-0.8zM28.6 214.4h0.8v0.8h-0.8zM30.9 210.8h0.8v0.8h-0.8zM27.9 206.6h0.8v0.8h-0.8zM33.4 211.3h0.8v0.8h-0.8zM34.4 212.3h0.8v0.8h-0.8zM29.5 210.5h0.8v0.8h-0.8zM68.1 207.3h0.8v0.8h-0.8zM72.6 211.6h0.8v0.8h-0.8zM72.4 208.6h0.8v0.8h-0.8zM72.2 208.1h0.8v0.8h-0.8zM70.6 208.2h0.8v0.8h-0.8zM72.4 206.7h0.8v0.8h-0.8zM68.9 211.4h0.8v0.8h-0.8zM69.9 207.8h0.8v0.8h-0.8zM71.8 210.3h0.8v0.8h-0.8zM71.0 208.3h0.8v0.8h-0.8zM72.3 209.2h0.8v0.8h-0.8zM70.6 210.3h0.8v0.8h-0.8zM69.2 213.5h0.8v0.8h-0.8zM71.0 210.4h0.8v0.8h-0.8zM70.7 208.0h0.8v0.8h-0.8zM70.7 212.6h0.8v0.8h-0.8zM70.3 207.3h0.8v0.8h-0.8zM68.5 207.1h0.8v0.8h-0.8zM67.9 210.6h0.8v0.8h-0.8zM73.7 211.7h0.8v0.8h-0.8zM69.1 211.3h0.8v0.8h-0.8zM72.9 206.4h0.8v0.8h-0.8zM72.0 214.0h0.8v0.8h-0.8zM70.2 214.3h0.8v0.8h-0.8zM70.7 208.9h0.8v0.8h-0.8zM71.1 213.5h0.8v0.8h-0.8zM71.7 208.9h0.8v0.8h-0.8zM70.8 212.7h0.8v0.8h-0.8zM70.9 206.3h0.8v0.8h-0.8zM71.6 210.9h0.8v0.8h-0.8zM73.6 207.8h0.8v0.8h-0.8zM68.3 209.8h0.8v0.8h-0.8zM69.0 213.1h0.8v0.8h-0.8zM71.5 207.5h0.8v0.8h-0.8zM71.8 213.9h0.8v0.8h-0.8zM76.3 213.0h0.8v0.8h-0.8zM71.9 206.9h0.8v0.8h-0.8zM73.0 212.7h0.8v0.8h-0.8zM72.2 207.4h0.8v0.8h-0.8zM69.0 208.0h0.8v0.8h-0.8zM69.2 207.1h0.8v0.8h-0.8zM69.6 210.6h0.8v0.8h-0.8zM73.3 214.0h0.8v0.8h-0.8zM72.5 207.5h0.8v0.8h-0.8zM68.8 212.9h0.8v0.8h-0.8zM68.9 208.2h0.8v0.8h-0.8zM70.6 214.4h0.8v0.8h-0.8zM69.8 214.4h0.8v0.8h-0.8zM73.0 209.7h0.8v0.8h-0.8zM70.9 208.9h0.8v0.8h-0.8zM69.0 209.2h0.8v0.8h-0.8zM71.5 206.1h0.8v0.8h-0.8zM72.9 211.6h0.8v0.8h-0.8zM70.3 212.8h0.8v0.8h-0.8zM71.5 213.3h0.8v0.8h-0.8zM74.0 207.1h0.8v0.8h-0.8zM69.7 206.2h0.8v0.8h-0.8zM67.6 209.8h0.8v0.8h-0.8zM68.1 210.9h0.8v0.8h-0.8zM75.2 206.5h0.8v0.8h-0.8zM69.7 210.3h0.8v0.8h-0.8zM71.4 206.1h0.8v0.8h-0.8zM69.1 206.7h0.8v0.8h-0.8zM69.9 213.1h0.8v0.8h-0.8zM75.6 214.1h0.8v0.8h-0.8zM70.8 210.0h0.8v0.8h-0.8zM69.5 209.0h0.8v0.8h-0.8zM74.3 212.2h0.8v0.8h-0.8zM71.9 210.7h0.8v0.8h-0.8zM69.3 208.1h0.8v0.8h-0.8zM104.1 206.4h0.8v0.8h-0.8zM106.1 213.1h0.8v0.8h-0.8zM103.3 213.0h0.8v0.8h-0.8zM104.5 212.7h0.8v0.8h-0.8zM109.0 208.2h0.8v0.8h-0.8zM105.2 206.8h0.8v0.8h-0.8zM108.0 208.0h0.8v0.8h-0.8zM107.3 212.7h0.8v0.8h-0.8zM100.3 211.7h0.8v0.8h-0.8zM106.9 208.0h0.8v0.8h-0.8zM107.0 212.3h0.8v0.8h-0.8zM108.1 210.1h0.8v0.8h-0.8zM102.7 208.1h0.8v0.8h-0.8zM108.4 210.1h0.8v0.8h-0.8zM104.7 207.6h0.8v0.8h-0.8zM103.5 212.4h0.8v0.8h-0.8zM102.9 211.1h0.8v0.8h-0.8zM104.8 214.8h0.8v0.8h-0.8zM106.9 212.9h0.8v0.8h-0.8zM108.0 208.0h0.8v0.8h-0.8zM100.6 207.3h0.8v0.8h-0.8zM105.3 208.2h0.8v0.8h-0.8zM105.1 209.7h0.8v0.8h-0.8zM105.9 208.1h0.8v0.8h-0.8zM106.7 213.4h0.8v0.8h-0.8zM104.9 206.2h0.8v0.8h-0.8zM105.3 208.1h0.8v0.8h-0.8zM103.2 213.5h0.8v0.8h-0.8zM102.6 209.3h0.8v0.8h-0.8zM104.7 213.4h0.8v0.8h-0.8zM107.3 207.0h0.8v0.8h-0.8zM107.6 213.7h0.8v0.8h-0.8zM106.3 207.8h0.8v0.8h-0.8zM105.5 211.1h0.8v0.8h-0.8zM99.3 209.2h0.8v0.8h-0.8zM107.3 212.3h0.8v0.8h-0.8zM105.5 212.2h0.8v0.8h-0.8zM105.4 208.5h0.8v0.8h-0.8zM105.7 210.0h0.8v0.8h-0.8zM106.0 211.7h0.8v0.8h-0.8zM106.4 207.6h0.8v0.8h-0.8zM105.3 211.1h0.8v0.8h-0.8zM106.2 208.7h0.8v0.8h-0.8zM103.5 211.7h0.8v0.8h-0.8zM105.8 207.7h0.8v0.8h-0.8zM107.7 211.5h0.8v0.8h-0.8zM105.8 214.1h0.8v0.8h-0.8zM107.6 211.8h0.8v0.8h-0.8zM103.2 209.3h0.8v0.8h-0.8zM104.4 212.1h0.8v0.8h-0.8zM106.0 211.6h0.8v0.8h-0.8zM105.6 213.0h0.8v0.8h-0.8zM104.1 208.0h0.8v0.8h-0.8zM104.8 209.3h0.8v0.8h-0.8zM103.8 210.0h0.8v0.8h-0.8zM102.7 210.8h0.8v0.8h-0.8zM105.2 207.7h0.8v0.8h-0.8zM106.2 210.1h0.8v0.8h-0.8zM109.2 209.4h0.8v0.8h-0.8zM108.2 209.1h0.8v0.8h-0.8zM104.5 206.1h0.8v0.8h-0.8zM105.9 213.3h0.8v0.8h-0.8zM100.4 213.8h0.8v0.8h-0.8zM111.2 210.1h0.8v0.8h-0.8zM104.0 206.7h0.8v0.8h-0.8zM105.7 210.9h0.8v0.8h-0.8zM107.8 215.5h0.8v0.8h-0.8zM105.7 208.4h0.8v0.8h-0.8zM108.5 214.8h0.8v0.8h-0.8zM102.3 208.7h0.8v0.8h-0.8zM139.6 211.4h0.8v0.8h-0.8zM141.2 211.9h0.8v0.8h-0.8zM145.3 211.2h0.8v0.8h-0.8zM141.2 209.6h0.8v0.8h-0.8zM140.3 210.0h0.8v0.8h-0.8zM144.0 212.1h0.8v0.8h-0.8zM147.0 208.0h0.8v0.8h-0.8zM142.4 212.2h0.8v0.8h-0.8zM144.0 207.5h0.8v0.8h-0.8zM145.9 208.8h0.8v0.8h-0.8zM143.6 209.9h0.8v0.8h-0.8zM146.0 211.3h0.8v0.8h-0.8zM141.0 208.9h0.8v0.8h-0.8zM141.7 208.0h0.8v0.8h-0.8zM143.9 209.5h0.8v0.8h-0.8zM142.8 206.5h0.8v0.8h-0.8zM141.4 207.2h0.8v0.8h-0.8zM140.7 215.0h0.8v0.8h-0.8zM143.6 209.4h0.8v0.8h-0.8zM140.2 211.9h0.8v0.8h-0.8zM142.1 209.9h0.8v0.8h-0.8zM142.2 212.4h0.8v0.8h-0.8zM146.2 210.4h0.8v0.8h-0.8zM141.4 208.0h0.8v0.8h-0.8zM141.1 213.4h0.8v0.8h-0.8zM144.5 207.2h0.8v0.8h-0.8zM143.2 214.3h0.8v0.8h-0.8zM139.5 207.5h0.8v0.8h-0.8zM145.5 210.3h0.8v0.8h-0.8zM143.1 214.6h0.8v0.8h-0.8zM139.2 209.1h0.8v0.8h-0.8zM144.9 211.8h0.8v0.8h-0.8zM143.6 206.9h0.8v0.8h-0.8zM141.2 211.0h0.8v0.8h-0.8zM147.6 214.5h0.8v0.8h-0.8zM145.4 212.4h0.8v0.8h-0.8zM143.0 209.8h0.8v0.8h-0.8zM141.9 207.2h0.8v0.8h-0.8zM141.3 208.0h0.8v0.8h-0.8zM141.9 207.5h0.8v0.8h-0.8zM140.4 211.8h0.8v0.8h-0.8zM141.6 211.0h0.8v0.8h-0.8zM148.2 215.5h0.8v0.8h-0.8zM142.6 213.0h0.8v0.8h-0.8zM143.4 213.0h0.8v0.8h-0.8zM146.4 213.3h0.8v0.8h-0.8zM143.0 206.3h0.8v0.8h-0.8zM141.7 210.5h0.8v0.8h-0.8zM145.9 212.9h0.8v0.8h-0.8zM140.7 207.8h0.8v0.8h-0.8zM141.7 214.8h0.8v0.8h-0.8zM143.6 208.4h0.8v0.8h-0.8zM141.3 207.4h0.8v0.8h-0.8zM142.3 213.0h0.8v0.8h-0.8zM142.1 211.5h0.8v0.8h-0.8zM143.2 207.0h0.8v0.8h-0.8zM141.7 212.6h0.8v0.8h-0.8zM142.9 208.9h0.8v0.8h-0.8zM142.2 214.6h0.8v0.8h-0.8zM147.0 207.1h0.8v0.8h-0.8zM140.2 211.5h0.8v0.8h-0.8zM140.3 214.5h0.8v0.8h-0.8zM144.2 215.1h0.8v0.8h-0.8zM145.4 214.0h0.8v0.8h-0.8zM143.7 207.2h0.8v0.8h-0.8zM138.9 207.4h0.8v0.8h-0.8zM139.1 208.5h0.8v0.8h-0.8zM141.5 209.6h0.8v0.8h-0.8zM142.5 214.2h0.8v0.8h-0.8zM143.1 212.5h0.8v0.8h-0.8zM178.1 211.8h0.8v0.8h-0.8zM179.1 207.9h0.8v0.8h-0.8zM184.7 211.9h0.8v0.8h-0.8zM180.8 209.1h0.8v0.8h-0.8zM179.7 211.3h0.8v0.8h-0.8zM183.9 209.3h0.8v0.8h-0.8zM179.2 207.8h0.8v0.8h-0.8zM184.2 213.0h0.8v0.8h-0.8zM181.0 212.6h0.8v0.8h-0.8zM176.0 213.1h0.8v0.8h-0.8zM185.5 213.7h0.8v0.8h-0.8zM178.6 207.8h0.8v0.8h-0.8zM182.2 207.8h0.8v0.8h-0.8zM180.1 212.0h0.8v0.8h-0.8zM181.4 210.4h0.8v0.8h-0.8zM178.5 213.8h0.8v0.8h-0.8zM179.0 212.1h0.8v0.8h-0.8zM178.3 214.8h0.8v0.8h-0.8zM182.1 206.1h0.8v0.8h-0.8zM181.6 208.1h0.8v0.8h-0.8zM183.4 213.7h0.8v0.8h-0.8zM178.8 211.2h0.8v0.8h-0.8zM184.5 206.2h0.8v0.8h-0.8zM179.6 207.5h0.8v0.8h-0.8zM180.0 206.8h0.8v0.8h-0.8zM177.5 210.8h0.8v0.8h-0.8zM182.5 215.3h0.8v0.8h-0.8zM181.2 212.2h0.8v0.8h-0.8zM179.4 212.5h0.8v0.8h-0.8zM179.9 214.2h0.8v0.8h-0.8zM179.3 209.4h0.8v0.8h-0.8zM182.7 206.5h0.8v0.8h-0.8zM182.2 214.4h0.8v0.8h-0.8zM181.5 206.6h0.8v0.8h-0.8zM178.8 207.5h0.8v0.8h-0.8zM178.6 215.5h0.8v0.8h-0.8zM182.3 209.0h0.8v0.8h-0.8zM179.8 211.0h0.8v0.8h-0.8zM180.8 212.2h0.8v0.8h-0.8zM179.1 212.5h0.8v0.8h-0.8zM180.5 213.5h0.8v0.8h-0.8zM178.6 211.4h0.8v0.8h-0.8zM179.0 209.4h0.8v0.8h-0.8zM180.0 207.3h0.8v0.8h-0.8zM178.5 211.9h0.8v0.8h-0.8zM178.0 207.1h0.8v0.8h-0.8zM183.1 215.1h0.8v0.8h-0.8zM179.9 214.3h0.8v0.8h-0.8zM181.0 208.3h0.8v0.8h-0.8zM176.8 210.1h0.8v0.8h-0.8zM179.8 209.3h0.8v0.8h-0.8zM180.6 206.1h0.8v0.8h-0.8zM181.6 207.3h0.8v0.8h-0.8zM183.4 208.9h0.8v0.8h-0.8zM179.9 208.2h0.8v0.8h-0.8zM182.0 206.7h0.8v0.8h-0.8zM182.3 208.1h0.8v0.8h-0.8zM179.4 207.6h0.8v0.8h-0.8zM178.4 211.2h0.8v0.8h-0.8zM183.2 213.0h0.8v0.8h-0.8zM184.0 208.0h0.8v0.8h-0.8zM180.8 214.8h0.8v0.8h-0.8zM182.4 212.9h0.8v0.8h-0.8zM181.5 208.2h0.8v0.8h-0.8zM181.8 209.7h0.8v0.8h-0.8zM183.3 211.5h0.8v0.8h-0.8zM182.1 210.0h0.8v0.8h-0.8zM179.1 208.7h0.8v0.8h-0.8zM179.7 206.5h0.8v0.8h-0.8zM181.5 208.0h0.8v0.8h-0.8zM219.5 207.0h0.8v0.8h-0.8zM216.0 210.8h0.8v0.8h-0.8zM213.7 211.1h0.8v0.8h-0.8zM211.6 206.5h0.8v0.8h-0.8zM219.1 209.6h0.8v0.8h-0.8zM216.5 207.2h0.8v0.8h-0.8zM217.3 209.2h0.8v0.8h-0.8zM216.3 210.4h0.8v0.8h-0.8zM217.9 208.4h0.8v0.8h-0.8zM217.1 210.0h0.8v0.8h-0.8zM218.9 210.2h0.8v0.8h-0.8zM218.0 211.3h0.8v0.8h-0.8zM217.3 208.4h0.8v0.8h-0.8zM217.0 212.5h0.8v0.8h-0.8zM217.5 213.0h0.8v0.8h-0.8zM217.4 206.2h0.8v0.8h-0.8zM215.9 212.1h0.8v0.8h-0.8zM217.5 210.2h0.8v0.8h-0.8zM217.7 210.0h0.8v0.8h-0.8zM217.9 209.8h0.8v0.8h-0.8zM214.4 214.7h0.8v0.8h-0.8zM218.7 212.6h0.8v0.8h-0.8zM216.6 213.3h0.8v0.8h-0.8zM214.8 211.8h0.8v0.8h-0.8zM215.8 212.4h0.8v0.8h-0.8zM220.0 208.4h0.8v0.8h-0.8zM217.5 213.9h0.8v0.8h-0.8zM217.5 208.4h0.8v0.8h-0.8zM220.6 213.7h0.8v0.8h-0.8zM220.5 208.3h0.8v0.8h-0.8zM217.1 211.8h0.8v0.8h-0.8zM219.4 209.0h0.8v0.8h-0.8zM216.8 206.2h0.8v0.8h-0.8zM217.9 213.7h0.8v0.8h-0.8zM216.2 212.9h0.8v0.8h-0.8zM220.3 209.8h0.8v0.8h-0.8zM220.1 210.4h0.8v0.8h-0.8zM215.7 210.7h0.8v0.8h-0.8zM219.0 208.3h0.8v0.8h-0.8zM213.8 207.3h0.8v0.8h-0.8zM219.3 207.1h0.8v0.8h-0.8zM217.3 210.8h0.8v0.8h-0.8zM216.1 207.3h0.8v0.8h-0.8zM215.7 212.9h0.8v0.8h-0.8zM219.3 207.5h0.8v0.8h-0.8zM216.3 207.5h0.8v0.8h-0.8zM218.9 214.2h0.8v0.8h-0.8zM219.4 210.6h0.8v0.8h-0.8zM217.4 213.9h0.8v0.8h-0.8zM214.6 207.0h0.8v0.8h-0.8zM219.4 206.7h0.8v0.8h-0.8zM217.5 211.4h0.8v0.8h-0.8zM216.5 210.6h0.8v0.8h-0.8zM220.7 212.2h0.8v0.8h-0.8zM217.9 207.8h0.8v0.8h-0.8zM216.6 211.6h0.8v0.8h-0.8zM215.9 210.6h0.8v0.8h-0.8zM217.4 210.8h0.8v0.8h-0.8zM217.6 212.7h0.8v0.8h-0.8zM217.2 208.1h0.8v0.8h-0.8zM220.8 210.9h0.8v0.8h-0.8zM220.7 212.3h0.8v0.8h-0.8zM217.8 214.1h0.8v0.8h-0.8zM217.4 212.4h0.8v0.8h-0.8zM213.0 209.8h0.8v0.8h-0.8zM219.1 211.5h0.8v0.8h-0.8zM215.7 213.5h0.8v0.8h-0.8zM221.5 207.6h0.8v0.8h-0.8zM218.0 213.2h0.8v0.8h-0.8zM216.5 208.1h0.8v0.8h-0.8zM251.0 206.6h0.8v0.8h-0.8zM253.1 209.3h0.8v0.8h-0.8zM256.1 210.4h0.8v0.8h-0.8zM253.6 211.6h0.8v0.8h-0.8zM255.3 212.7h0.8v0.8h-0.8zM254.1 207.9h0.8v0.8h-0.8zM254.4 211.3h0.8v0.8h-0.8zM255.0 210.5h0.8v0.8h-0.8zM252.9 211.5h0.8v0.8h-0.8zM254.7 212.1h0.8v0.8h-0.8zM255.4 212.7h0.8v0.8h-0.8zM256.4 213.1h0.8v0.8h-0.8zM258.1 211.2h0.8v0.8h-0.8zM252.5 209.9h0.8v0.8h-0.8zM254.6 210.0h0.8v0.8h-0.8zM254.5 206.5h0.8v0.8h-0.8zM256.2 207.7h0.8v0.8h-0.8zM255.3 215.4h0.8v0.8h-0.8zM253.0 208.0h0.8v0.8h-0.8zM253.5 207.5h0.8v0.8h-0.8zM256.9 214.2h0.8v0.8h-0.8zM252.0 208.8h0.8v0.8h-0.8zM252.7 213.0h0.8v0.8h-0.8zM253.7 210.4h0.8v0.8h-0.8zM252.5 206.5h0.8v0.8h-0.8zM255.3 212.7h0.8v0.8h-0.8zM255.0 208.5h0.8v0.8h-0.8zM253.4 210.6h0.8v0.8h-0.8zM252.5 213.7h0.8v0.8h-0.8zM255.7 212.8h0.8v0.8h-0.8zM253.2 207.3h0.8v0.8h-0.8zM255.0 208.5h0.8v0.8h-0.8zM252.2 213.4h0.8v0.8h-0.8zM252.1 215.4h0.8v0.8h-0.8zM257.9 210.3h0.8v0.8h-0.8zM256.3 206.3h0.8v0.8h-0.8zM253.4 208.9h0.8v0.8h-0.8zM256.1 207.3h0.8v0.8h-0.8zM252.2 211.4h0.8v0.8h-0.8zM255.3 212.6h0.8v0.8h-0.8zM257.9 210.7h0.8v0.8h-0.8zM251.9 213.6h0.8v0.8h-0.8zM255.8 208.1h0.8v0.8h-0.8zM252.7 210.9h0.8v0.8h-0.8zM257.2 214.0h0.8v0.8h-0.8zM255.9 206.6h0.8v0.8h-0.8zM255.2 215.5h0.8v0.8h-0.8zM255.9 212.8h0.8v0.8h-0.8zM253.8 213.9h0.8v0.8h-0.8zM253.6 214.6h0.8v0.8h-0.8zM256.7 212.7h0.8v0.8h-0.8zM254.5 208.0h0.8v0.8h-0.8zM253.3 206.6h0.8v0.8h-0.8zM252.2 206.3h0.8v0.8h-0.8zM253.1 208.5h0.8v0.8h-0.8zM257.5 213.1h0.8v0.8h-0.8zM254.4 208.7h0.8v0.8h-0.8zM253.8 206.8h0.8v0.8h-0.8zM252.5 208.8h0.8v0.8h-0.8zM251.8 210.9h0.8v0.8h-0.8zM255.8 211.9h0.8v0.8h-0.8zM255.5 207.6h0.8v0.8h-0.8zM258.1 211.7h0.8v0.8h-0.8zM250.7 206.9h0.8v0.8h-0.8zM254.6 209.7h0.8v0.8h-0.8zM254.1 214.1h0.8v0.8h-0.8zM256.2 208.4h0.8v0.8h-0.8zM255.3 213.2h0.8v0.8h-0.8zM253.3 209.8h0.8v0.8h-0.8zM256.4 213.8h0.8v0.8h-0.8z"/>
<path fill="#202020" d="M32.9 210.2h0.8v0.8h-0.8zM32.9 208.1h0.8v0.8h-0.8zM32.0 209.6h0.8v0.8h-0.8zM30.2 211.1h0.8v0.8h-0.8zM32.7 215.6h0.8v0.8h-0.8zM32.4 214.6h0.8v0.8h-0.8zM31.6 215.0h0.8v0.8h-0.8zM31.3 214.9h0.8v0.8h-0.8zM32.1 215.5h0.8v0.8h-0.8zM31.2 208.6h0.8v0.8h-0.8zM33.0 210.1h0.8v0.8h-0.8zM32.9 208.6h0.8v0.8h-0.8zM32.9 209.0h0.8v0.8h-0.8zM31.2 215.4h0.8v0.8h-0.8zM31.7 209.7h0.8v0.8h-0.8zM30.4 214.9h0.8v0.8h-0.8zM31.6 215.2h0.8v0.8h-0.8zM29.3 213.1h0.8v0.8h-0.8zM29.9 213.8h0.8v0.8h-0.8zM30.9 214.3h0.8v0.8h-0.8zM31.6 209.4h0.8v0.8h-0.8zM33.0 212.6h0.8v0.8h-0.8zM30.9 212.9h0.8v0.8h-0.8zM32.3 212.3h0.8v0.8h-0.8zM32.6 207.4h0.8v0.8h-0.8zM32.2 212.4h0.8v0.8h-0.8zM31.6 209.9h0.8v0.8h-0.8zM31.0 209.4h0.8v0.8h-0.8zM31.0 211.8h0.8v0.8h-0.8zM30.5 210.4h0.8v0.8h-0.8zM32.1 215.0h0.8v0.8h-0.8zM31.3 209.4h0.8v0.8h-0.8zM32.6 212.1h0.8v0.8h-0.8zM31.0 209.7h0.8v0.8h-0.8zM31.9 214.2h0.8v0.8h-0.8zM32.3 210.9h0.8v0.8h-0.8zM31.3 209.9h0.8v0.8h-0.8zM32.3 207.5h0.8v0.8h-0.8zM31.2 212.4h0.8v0.8h-0.8zM33.1 208.5h0.8v0.8h-0.8zM30.9 214.0h0.8v0.8h-0.8zM31.2 215.5h0.8v0.8h-0.8zM30.6 214.4h0.8v0.8h-0.8zM31.7 212.8h0.8v0.8h-0.8zM30.8 214.6h0.8v0.8h-0.8zM33.2 207.2h0.8v0.8h-0.8zM30.3 211.9h0.8v0.8h-0.8zM31.8 208.6h0.8v0.8h-0.8zM32.2 211.8h0.8v0.8h-0.8zM30.5 209.7h0.8v0.8h-0.8zM32.2 209.6h0.8v0.8h-0.8zM30.8 207.5h0.8v0.8h-0.8zM30.9 213.9h0.8v0.8h-0.8zM31.7 209.7h0.8v0.8h-0.8zM30.5 208.5h0.8v0.8h-0.8zM29.3 213.8h0.8v0.8h-0.8zM31.9 214.3h0.8v0.8h-0.8zM32.3 209.8h0.8v0.8h-0.8zM33.0 213.7h0.8v0.8h-0.8zM29.9 208.4h0.8v0.8h-0.8zM31.2 209.6h0.8v0.8h-0.8zM32.6 215.0h0.8v0.8h-0.8zM33.2 213.4h0.8v0.8h-0.8zM32.6 212.9h0.8v0.8h-0.8zM30.3 215.6h0.8v0.8h-0.8zM30.9 213.0h0.8v0.8h-0.8zM30.5 214.1h0.8v0.8h-0.8zM32.0 210.9h0.8v0.8h-0.8zM32.6 211.2h0.8v0.8h-0.8zM31.3 214.8h0.8v0.8h-0.8zM31.4 214.8h0.8v0.8h-0.8zM33.1 208.1h0.8v0.8h-0.8zM32.0 207.6h0.8v0.8h-0.8zM31.4 212.7h0.8v0.8h-0.8zM31.8 213.4h0.8v0.8h-0.8zM29.9 210.1h0.8v0.8h-0.8zM30.6 213.6h0.8v0.8h-0.8zM30.1 209.4h0.8v0.8h-0.8zM33.1 211.3h0.8v0.8h-0.8zM31.2 214.8h0.8v0.8h-0.8zM30.7 209.7h0.8v0.8h-0.8zM31.6 210.1h0.8v0.8h-0.8zM31.0 210.3h0.8v0.8h-0.8zM31.3 210.5h0.8v0.8h-0.8zM32.5 210.3h0.8v0.8h-0.8zM33.5 214.8h0.8v0.8h-0.8zM32.1 213.1h0.8v0.8h-0.8zM31.4 209.7h0.8v0.8h-0.8zM30.6 210.3h0.8v0.8h-0.8zM30.9 212.0h0.8v0.8h-0.8zM31.4 215.2h0.8v0.8h-0.8zM32.2 209.7h0.8v0.8h-0.8zM31.6 209.5h0.8v0.8h-0.8zM30.3 212.8h0.8v0.8h-0.8zM31.5 208.3h0.8v0.8h-0.8zM32.6 215.3h0.8v0.8h-0.8zM30.8 209.2h0.8v0.8h-0.8zM31.6 212.9h0.8v0.8h-0.8zM31.1 211.3h0.8v0.8h-0.8zM32.5 209.2h0.8v0.8h-0.8zM72.5 213.4h0.8v0.8h-0.8zM71.8 212.4h0.8v0.8h-0.8zM71.6 215.1h0.8v0.8h-0.8zM72.1 209.9h0.8v0.8h-0.8zM72.5 207.3h0.8v0.8h-0.8zM73.1 212.7h0.8v0.8h-0.8zM70.8 214.5h0.8v0.8h-0.8zM70.7 211.4h0.8v0.8h-0.8zM72.1 211.3h0.8v0.8h-0.8zM69.9 213.5h0.8v0.8h-0.8zM72.6 212.0h0.8v0.8h-0.8zM72.5 213.4h0.8v0.8h-0.8zM69.9 213.8h0.8v0.8h-0.8zM71.1 214.7h0.8v0.8h-0.8zM71.0 211.4h0.8v0.8h-0.8zM70.5 215.3h0.8v0.8h-0.8zM71.0 214.1h0.8v0.8h-0.8zM71.2 207.3h0.8v0.8h-0.8zM70.0 209.1h0.8v0.8h-0.8zM71.4 214.3h0.8v0.8h-0.8zM71.1 215.5h0.8v0.8h-0.8zM70.3 215.3h0.8v0.8h-0.8zM71.5 211.2h0.8v0.8h-0.8zM71.8 213.8h0.8v0.8h-0.8zM71.6 208.9h0.8v0.8h-0.8zM70.4 215.3h0.8v0.8h-0.8zM71.5 212.2h0.8v0.8h-0.8zM70.1 207.9h0.8v0.8h-0.8zM70.0 208.9h0.8v0.8h-0.8zM71.1 209.3h0.8v0.8h-0.8zM71.6 209.0h0.8v0.8h-0.8zM69.2 211.2h0.8v0.8h-0.8zM71.0 213.5h0.8v0.8h-0.8zM71.2 210.4h0.8v0.8h-0.8zM71.3 208.1h0.8v0.8h-0.8zM72.0 210.2h0.8v0.8h-0.8zM70.5 207.8h0.8v0.8h-0.8zM71.6 212.4h0.8v0.8h-0.8zM69.8 211.5h0.8v0.8h-0.8zM71.4 210.0h0.8v0.8h-0.8zM71.7 207.2h0.8v0.8h-0.8zM70.1 212.9h0.8v0.8h-0.8zM70.8 212.0h0.8v0.8h-0.8zM71.5 207.5h0.8v0.8h-0.8zM70.1 214.5h0.8v0.8h-0.8zM70.6 212.4h0.8v0.8h-0.8zM72.2 208.5h0.8v0.8h-0.8zM72.2 210.6h0.8v0.8h-0.8zM69.1 215.4h0.8v0.8h-0.8zM70.0 211.7h0.8v0.8h-0.8zM70.5 213.5h0.8v0.8h-0.8zM70.5 214.9h0.8v0.8h-0.8zM69.0 210.1h0.8v0.8h-0.8zM70.3 208.1h0.8v0.8h-0.8zM72.0 207.5h0.8v0.8h-0.8zM70.7 207.8h0.8v0.8h-0.8zM70.6 214.3h0.8v0.8h-0.8zM69.7 213.2h0.8v0.8h-0.8zM72.4 213.6h0.8v0.8h-0.8zM73.4 213.2h0.8v0.8h-0.8zM70.4 212.6h0.8v0.8h-0.8zM71.0 213.7h0.8v0.8h-0.8zM71.6 207.3h0.8v0.8h-0.8zM71.7 214.2h0.8v0.8h-0.8zM71.4 215.1h0.8v0.8h-0.8zM69.5 208.6h0.8v0.8h-0.8zM70.8 210.5h0.8v0.8h-0.8zM71.1 213.5h0.8v0.8h-0.8zM71.0 207.5h0.8v0.8h-0.8zM71.8 211.8h0.8v0.8h-0.8zM71.4 213.6h0.8v0.8h-0.8zM70.8 213.9h0.8v0.8h-0.8zM71.0 207.5h0.8v0.8h-0.8zM72.4 214.3h0.8v0.8h-0.8zM72.8 207.2h0.8v0.8h-0.8zM70.4 214.6h0.8v0.8h-0.8zM69.8 215.3h0.8v0.8h-0.8zM71.1 214.2h0.8v0.8h-0.8zM70.5 208.7h0.8v0.8h-0.8zM71.3 207.5h0.8v0.8h-0.8zM70.9 211.3h0.8v0.8h-0.8zM70.7 212.6h0.8v0.8h-0.8zM71.4 207.2h0.8v0.8h-0.8zM71.0 214.6h0.8v0.8h-0.8zM71.6 214.7h0.8v0.8h-0.8zM69.8 215.1h0.8v0.8h-0.8zM72.9 214.2h0.8v0.8h-0.8zM74.3 207.3h0.8v0.8h-0.8zM69.8 213.8h0.8v0.8h-0.8zM69.6 211.8h0.8v0.8h-0.8zM73.0 209.8h0.8v0.8h-0.8zM71.0 213.0h0.8v0.8h-0.8zM71.3 209.4h0.8v0.8h-0.8zM71.4 211.9h0.8v0.8h-0.8zM69.8 211.3h0.8v0.8h-0.8zM69.9 208.6h0.8v0.8h-0.8zM71.5 214.1h0.8v0.8h-0.8zM69.2 208.5h0.8v0.8h-0.8zM69.8 214.3h0.8v0.8h-0.8zM73.0 214.4h0.8v0.8h-0.8zM105.1 213.3h0.8v0.8h-0.8zM106.6 213.3h0.8v0.8h-0.8zM106.4 215.0h0.8v0.8h-0.8zM106.5 207.4h0.8v0.8h-0.8zM108.0 214.2h0.8v0.8h-0.8zM106.2 215.0h0.8v0.8h-0.8zM105.5 209.2h0.8v0.8h-0.8zM104.3 211.6h0.8v0.8h-0.8zM105.2 210.1h0.8v0.8h-0.8zM105.2 211.5h0.8v0.8h-0.8zM105.6 215.2h0.8v0.8h-0.8zM105.5 210.1h0.8v0.8h-0.8zM106.4 209.8h0.8v0.8h-0.8zM105.0 211.1h0.8v0.8h-0.8zM104.6 210.7h0.8v0.8h-0.8zM106.2 215.4h0.8v0.8h-0.8zM104.9 213.7h0.8v0.8h-0.8zM107.0 211.9h0.8v0.8h-0.8zM105.5 210.3h0.8v0.8h-0.8zM106.4 209.5h0.8v0.8h-0.8zM106.6 214.1h0.8v0.8h-0.8zM105.2 213.0h0.8v0.8h-0.8zM106.2 210.9h0.8v0.8h-0.8zM105.8 210.7h0.8v0.8h-0.8zM105.5 214.9h0.8v0.8h-0.8zM106.1 214.3h0.8v0.8h-0.8zM104.7 208.2h0.8v0.8h-0.8zM105.5 211.1h0.8v0.8h-0.8zM104.9 215.4h0.8v0.8h-0.8zM106.4 209.6h0.8v0.8h-0.8zM105.5 209.6h0.8v0.8h-0.8zM104.5 213.6h0.8v0.8h-0.8zM105.6 214.2h0.8v0.8h-0.8zM106.2 210.7h0.8v0.8h-0.8zM104.5 214.9h0.8v0.8h-0.8zM104.2 209.3h0.8v0.8h-0.8zM104.5 211.6h0.8v0.8h-0.8zM105.6 212.2h0.8v0.8h-0.8zM105.8 210.3h0.8v0.8h-0.8zM106.5 209.7h0.8v0.8h-0.8zM106.1 208.1h0.8v0.8h-0.8zM105.2 208.9h0.8v0.8h-0.8zM104.9 214.6h0.8v0.8h-0.8zM102.8 209.2h0.8v0.8h-0.8zM105.9 210.8h0.8v0.8h-0.8zM105.2 207.6h0.8v0.8h-0.8zM105.0 208.0h0.8v0.8h-0.8zM107.4 212.2h0.8v0.8h-0.8zM105.9 208.7h0.8v0.8h-0.8zM106.1 212.3h0.8v0.8h-0.8zM105.1 207.8h0.8v0.8h-0.8zM106.5 213.7h0.8v0.8h-0.8zM107.9 213.2h0.8v0.8h-0.8zM105.8 212.6h0.8v0.8h-0.8zM106.3 215.0h0.8v0.8h-0.8zM105.4 208.1h0.8v0.8h-0.8zM105.5 207.7h0.8v0.8h-0.8zM106.2 213.9h0.8v0.8h-0.8zM106.2 213.3h0.8v0.8h-0.8zM105.0 214.0h0.8v0.8h-0.8zM104.3 212.5h0.8v0.8h-0.8zM105.2 211.6h0.8v0.8h-0.8zM104.9 207.7h0.8v0.8h-0.8zM107.3 209.4h0.8v0.8h-0.8zM105.7 213.7h0.8v0.8h-0.8zM105.2 214.1h0.8v0.8h-0.8zM107.0 208.0h0.8v0.8h-0.8zM107.7 207.9h0.8v0.8h-0.8zM105.0 212.3h0.8v0.8h-0.8zM105.3 215.2h0.8v0.8h-0.8zM106.1 213.4h0.8v0.8h-0.8zM105.1 207.6h0.8v0.8h-0.8zM106.2 213.2h0.8v0.8h-0.8zM107.7 210.2h0.8v0.8h-0.8zM107.2 212.5h0.8v0.8h-0.8zM106.8 213.0h0.8v0.8h-0.8zM104.7 213.7h0.8v0.8h-0.8zM104.4 214.7h0.8v0.8h-0.8zM105.3 208.3h0.8v0.8h-0.8zM105.4 213.0h0.8v0.8h-0.8zM105.9 214.8h0.8v0.8h-0.8zM106.3 213.2h0.8v0.8h-0.8zM104.5 213.1h0.8v0.8h-0.8zM105.2 213.4h0.8v0.8h-0.8zM103.8 212.2h0.8v0.8h-0.8zM105.6 209.2h0.8v0.8h-0.8zM105.0 214.4h0.8v0.8h-0.8zM105.6 208.5h0.8v0.8h-0.8zM104.5 211.5h0.8v0.8h-0.8zM105.6 208.5h0.8v0.8h-0.8zM104.8 212.8h0.8v0.8h-0.8zM106.2 215.5h0.8v0.8h-0.8zM104.4 211.7h0.8v0.8h-0.8zM105.2 212.1h0.8v0.8h-0.8zM103.9 214.3h0.8v0.8h-0.8zM105.8 207.3h0.8v0.8h-0.8zM107.0 214.3h0.8v0.8h-0.8zM106.8 209.0h0.8v0.8h-0.8zM105.5 211.3h0.8v0.8h-0.8zM105.9 208.6h0.8v0.8h-0.8zM142.4 207.4h0.8v0.8h-0.8zM143.0 211.0h0.8v0.8h-0.8zM142.8 213.9h0.8v0.8h-0.8zM140.8 208.2h0.8v0.8h-0.8zM143.7 214.7h0.8v0.8h-0.8zM142.7 208.9h0.8v0.8h-0.8zM144.3 212.4h0.8v0.8h-0.8zM141.8 210.7h0.8v0.8h-0.8zM143.5 212.3h0.8v0.8h-0.8zM143.4 209.5h0.8v0.8h-0.8zM144.8 215.4h0.8v0.8h-0.8zM144.1 207.4h0.8v0.8h-0.8zM143.1 208.8h0.8v0.8h-0.8zM144.7 207.5h0.8v0.8h-0.8zM141.4 213.4h0.8v0.8h-0.8zM143.2 208.6h0.8v0.8h-0.8zM144.5 210.8h0.8v0.8h-0.8zM144.2 215.2h0.8v0.8h-0.8zM143.7 215.2h0.8v0.8h-0.8zM142.6 213.7h0.8v0.8h-0.8zM143.7 209.8h0.8v0.8h-0.8zM143.0 207.2h0.8v0.8h-0.8zM141.6 208.7h0.8v0.8h-0.8zM141.5 209.7h0.8v0.8h-0.8zM142.3 214.5h0.8v0.8h-0.8zM143.4 211.2h0.8v0.8h-0.8zM143.4 213.2h0.8v0.8h-0.8zM144.5 210.9h0.8v0.8h-0.8zM141.6 214.5h0.8v0.8h-0.8zM142.5 213.7h0.8v0.8h-0.8zM142.6 210.1h0.8v0.8h-0.8zM142.3 207.4h0.8v0.8h-0.8zM140.9 210.6h0.8v0.8h-0.8zM144.5 207.6h0.8v0.8h-0.8zM141.3 210.0h0.8v0.8h-0.8zM142.6 214.2h0.8v0.8h-0.8zM141.6 212.0h0.8v0.8h-0.8zM142.8 210.2h0.8v0.8h-0.8zM144.4 208.8h0.8v0.8h-0.8zM141.9 214.6h0.8v0.8h-0.8zM142.5 207.7h0.8v0.8h-0.8zM141.6 215.6h0.8v0.8h-0.8zM144.2 212.7h0.8v0.8h-0.8zM145.3 209.8h0.8v0.8h-0.8zM142.1 212.2h0.8v0.8h-0.8zM142.4 211.1h0.8v0.8h-0.8zM144.1 209.0h0.8v0.8h-0.8zM142.8 213.3h0.8v0.8h-0.8zM142.6 209.5h0.8v0.8h-0.8zM141.6 208.2h0.8v0.8h-0.8zM145.2 210.7h0.8v0.8h-0.8zM144.2 213.7h0.8v0.8h-0.8zM142.5 213.9h0.8v0.8h-0.8zM143.0 208.6h0.8v0.8h-0.8zM142.4 214.4h0.8v0.8h-0.8zM141.0 214.9h0.8v0.8h-0.8zM142.1 209.8h0.8v0.8h-0.8zM143.7 213.4h0.8v0.8h-0.8zM142.8 213.4h0.8v0.8h-0.8zM141.6 209.1h0.8v0.8h-0.8zM144.1 214.2h0.8v0.8h-0.8zM143.5 215.3h0.8v0.8h-0.8zM141.7 210.6h0.8v0.8h-0.8zM143.1 212.7h0.8v0.8h-0.8zM144.5 214.5h0.8v0.8h-0.8zM142.1 215.6h0.8v0.8h-0.8zM143.9 214.9h0.8v0.8h-0.8zM142.6 214.3h0.8v0.8h-0.8zM142.7 212.7h0.8v0.8h-0.8zM142.3 210.1h0.8v0.8h-0.8zM142.0 207.6h0.8v0.8h-0.8zM144.1 209.0h0.8v0.8h-0.8zM141.9 213.3h0.8v0.8h-0.8zM141.9 210.4h0.8v0.8h-0.8zM142.1 211.7h0.8v0.8h-0.8zM141.8 209.4h0.8v0.8h-0.8zM143.3 207.3h0.8v0.8h-0.8zM144.4 215.4h0.8v0.8h-0.8zM142.9 215.1h0.8v0.8h-0.8zM145.8 208.8h0.8v0.8h-0.8zM142.6 210.5h0.8v0.8h-0.8zM142.7 215.6h0.8v0.8h-0.8zM143.4 207.8h0.8v0.8h-0.8zM142.2 208.1h0.8v0.8h-0.8zM143.6 214.5h0.8v0.8h-0.8zM143.7 209.3h0.8v0.8h-0.8zM143.2 214.8h0.8v0.8h-0.8zM143.1 208.4h0.8v0.8h-0.8zM142.9 212.1h0.8v0.8h-0.8zM143.8 211.2h0.8v0.8h-0.8zM140.8 213.0h0.8v0.8h-0.8zM144.2 211.8h0.8v0.8h-0.8zM143.4 214.4h0.8v0.8h-0.8zM142.3 208.6h0.8v0.8h-0.8zM142.1 208.7h0.8v0.8h-0.8zM144.8 212.7h0.8v0.8h-0.8zM142.7 208.3h0.8v0.8h-0.8zM143.3 212.1h0.8v0.8h-0.8zM142.6 213.9h0.8v0.8h-0.8zM143.4 208.3h0.8v0.8h-0.8zM179.7 210.6h0.8v0.8h-0.8zM180.5 213.4h0.8v0.8h-0.8zM181.9 208.0h0.8v0.8h-0.8zM181.4 214.9h0.8v0.8h-0.8zM181.8 207.1h0.8v0.8h-0.8zM180.7 209.2h0.8v0.8h-0.8zM180.7 208.1h0.8v0.8h-0.8zM181.5 207.3h0.8v0.8h-0.8zM181.2 211.3h0.8v0.8h-0.8zM179.6 209.1h0.8v0.8h-0.8zM181.6 213.4h0.8v0.8h-0.8zM179.1 208.7h0.8v0.8h-0.8zM182.1 215.6h0.8v0.8h-0.8zM180.4 214.2h0.8v0.8h-0.8zM180.2 207.9h0.8v0.8h-0.8zM179.9 210.4h0.8v0.8h-0.8zM180.6 211.4h0.8v0.8h-0.8zM180.3 209.8h0.8v0.8h-0.8zM182.7 213.6h0.8v0.8h-0.8zM179.7 211.6h0.8v0.8h-0.8zM181.2 215.1h0.8v0.8h-0.8zM180.7 214.3h0.8v0.8h-0.8zM180.7 209.8h0.8v0.8h-0.8zM179.9 208.7h0.8v0.8h-0.8zM180.9 210.0h0.8v0.8h-0.8zM180.5 209.0h0.8v0.8h-0.8zM180.2 208.8h0.8v0.8h-0.8zM178.9 210.6h0.8v0.8h-0.8zM181.6 214.9h0.8v0.8h-0.8zM179.9 213.5h0.8v0.8h-0.8zM181.6 211.9h0.8v0.8h-0.8zM180.4 208.3h0.8v0.8h-0.8zM180.1 211.9h0.8v0.8h-0.8zM179.2 211.6h0.8v0.8h-0.8zM181.4 214.5h0.8v0.8h-0.8zM181.1 211.3h0.8v0.8h-0.8zM180.4 210.4h0.8v0.8h-0.8zM180.7 214.9h0.8v0.8h-0.8zM180.6 211.9h0.8v0.8h-0.8zM181.0 214.6h0.8v0.8h-0.8zM181.7 208.7h0.8v0.8h-0.8zM180.5 212.1h0.8v0.8h-0.8zM179.9 213.5h0.8v0.8h-0.8zM182.5 211.5h0.8v0.8h-0.8zM178.7 209.8h0.8v0.8h-0.8zM178.3 215.3h0.8v0.8h-0.8zM178.4 208.4h0.8v0.8h-0.8zM181.5 212.8h0.8v0.8h-0.8zM181.3 209.3h0.8v0.8h-0.8zM181.4 214.3h0.8v0.8h-0.8zM181.4 210.0h0.8v0.8h-0.8zM180.3 209.9h0.8v0.8h-0.8zM180.9 210.5h0.8v0.8h-0.8zM182.0 213.6h0.8v0.8h-0.8zM179.4 207.5h0.8v0.8h-0.8zM180.5 213.5h0.8v0.8h-0.8zM181.3 210.8h0.8v0.8h-0.8zM181.9 211.7h0.8v0.8h-0.8zM181.4 211.6h0.8v0.8h-0.8zM180.5 211.9h0.8v0.8h-0.8zM181.2 212.0h0.8v0.8h-0.8zM181.8 212.7h0.8v0.8h-0.8zM181.2 207.4h0.8v0.8h-0.8zM177.9 214.0h0.8v0.8h-0.8zM179.1 215.0h0.8v0.8h-0.8zM182.6 215.0h0.8v0.8h-0.8zM183.1 211.6h0.8v0.8h-0.8zM181.8 212.2h0.8v0.8h-0.8zM182.5 207.2h0.8v0.8h-0.8zM182.0 210.0h0.8v0.8h-0.8zM181.9 213.2h0.8v0.8h-0.8zM180.1 214.3h0.8v0.8h-0.8zM180.6 212.8h0.8v0.8h-0.8zM181.3 215.3h0.8v0.8h-0.8zM182.9 208.5h0.8v0.8h-0.8zM181.3 208.8h0.8v0.8h-0.8zM180.1 211.3h0.8v0.8h-0.8zM181.7 209.1h0.8v0.8h-0.8zM180.4 211.2h0.8v0.8h-0.8zM181.9 208.6h0.8v0.8h-0.8zM180.8 212.5h0.8v0.8h-0.8zM180.9 208.2h0.8v0.8h-0.8zM181.4 214.7h0.8v0.8h-0.8zM182.0 213.6h0.8v0.8h-0.8zM180.5 212.0h0.8v0.8h-0.8zM180.5 210.9h0.8v0.8h-0.8zM179.5 208.5h0.8v0.8h-0.8zM181.9 213.5h0.8v0.8h-0.8zM180.9 210.8h0.8v0.8h-0.8zM179.1 210.8h0.8v0.8h-0.8zM179.3 209.9h0.8v0.8h-0.8zM180.1 213.6h0.8v0.8h-0.8zM179.9 212.0h0.8v0.8h-0.8zM179.5 208.1h0.8v0.8h-0.8zM180.3 211.0h0.8v0.8h-0.8zM182.0 210.7h0.8v0.8h-0.8zM181.4 214.8h0.8v0.8h-0.8zM182.2 211.3h0.8v0.8h-0.8zM179.3 208.4h0.8v0.8h-0.8zM181.3 207.2h0.8v0.8h-0.8zM216.8 212.7h0.8v0.8h-0.8zM216.9 215.1h0.8v0.8h-0.8zM216.1 211.0h0.8v0.8h-0.8zM217.1 215.4h0.8v0.8h-0.8zM217.0 213.6h0.8v0.8h-0.8zM216.8 212.1h0.8v0.8h-0.8zM214.6 208.4h0.8v0.8h-0.8zM217.1 212.1h0.8v0.8h-0.8zM216.5 208.5h0.8v0.8h-0.8zM216.1 209.7h0.8v0.8h-0.8zM217.4 214.6h0.8v0.8h-0.8zM216.1 211.0h0.8v0.8h-0.8zM217.6 209.9h0.8v0.8h-0.8zM217.2 212.0h0.8v0.8h-0.8zM218.4 214.9h0.8v0.8h-0.8zM217.9 211.1h0.8v0.8h-0.8zM214.8 212.4h0.8v0.8h-0.8zM216.6 212.8h0.8v0.8h-0.8zM218.1 213.6h0.8v0.8h-0.8zM218.2 214.0h0.8v0.8h-0.8zM217.0 210.2h0.8v0.8h-0.8zM218.2 211.1h0.8v0.8h-0.8zM217.3 208.8h0.8v0.8h-0.8zM217.2 207.4h0.8v0.8h-0.8zM217.6 215.5h0.8v0.8h-0.8zM216.3 207.2h0.8v0.8h-0.8zM217.9 212.9h0.8v0.8h-0.8zM217.3 212.7h0.8v0.8h-0.8zM218.1 214.6h0.8v0.8h-0.8zM218.3 209.5h0.8v0.8h-0.8zM216.6 213.5h0.8v0.8h-0.8zM216.2 213.9h0.8v0.8h-0.8zM215.4 207.5h0.8v0.8h-0.8zM217.0 207.6h0.8v0.8h-0.8zM218.9 211.9h0.8v0.8h-0.8zM218.2 212.2h0.8v0.8h-0.8zM216.9 207.8h0.8v0.8h-0.8zM217.0 214.5h0.8v0.8h-0.8zM217.1 211.3h0.8v0.8h-0.8zM217.1 208.8h0.8v0.8h-0.8zM217.6 213.1h0.8v0.8h-0.8zM218.1 214.3h0.8v0.8h-0.8zM216.8 212.3h0.8v0.8h-0.8zM218.3 211.1h0.8v0.8h-0.8zM215.4 213.7h0.8v0.8h-0.8zM216.5 212.8h0.8v0.8h-0.8zM217.2 215.6h0.8v0.8h-0.8zM219.6 209.2h0.8v0.8h-0.8zM217.6 213.8h0.8v0.8h-0.8zM217.1 208.7h0.8v0.8h-0.8zM217.1 210.6h0.8v0.8h-0.8zM217.1 212.2h0.8v0.8h-0.8zM216.3 208.8h0.8v0.8h-0.8zM217.1 214.8h0.8v0.8h-0.8zM217.7 207.9h0.8v0.8h-0.8zM217.2 211.1h0.8v0.8h-0.8zM217.7 214.7h0.8v0.8h-0.8zM215.8 213.9h0.8v0.8h-0.8zM218.1 212.3h0.8v0.8h-0.8zM219.1 208.3h0.8v0.8h-0.8zM216.5 215.4h0.8v0.8h-0.8zM218.6 214.5h0.8v0.8h-0.8zM217.1 207.2h0.8v0.8h-0.8zM219.4 215.4h0.8v0.8h-0.8zM219.3 215.1h0.8v0.8h-0.8zM215.9 210.9h0.8v0.8h-0.8zM217.5 208.8h0.8v0.8h-0.8zM218.6 213.2h0.8v0.8h-0.8zM218.3 207.5h0.8v0.8h-0.8zM216.2 214.7h0.8v0.8h-0.8zM216.2 207.9h0.8v0.8h-0.8zM217.1 212.3h0.8v0.8h-0.8zM218.0 209.1h0.8v0.8h-0.8zM216.8 210.7h0.8v0.8h-0.8zM218.3 213.8h0.8v0.8h-0.8zM218.1 209.7h0.8v0.8h-0.8zM218.0 210.1h0.8v0.8h-0.8zM217.6 208.6h0.8v0.8h-0.8zM218.7 209.8h0.8v0.8h-0.8zM217.4 207.2h0.8v0.8h-0.8zM217.6 209.8h0.8v0.8h-0.8zM217.1 210.9h0.8v0.8h-0.8zM218.9 210.5h0.8v0.8h-0.8zM216.4 212.6h0.8v0.8h-0.8zM218.5 212.6h0.8v0.8h-0.8zM216.6 208.4h0.8v0.8h-0.8zM218.8 213.4h0.8v0.8h-0.8zM218.0 209.4h0.8v0.8h-0.8zM217.6 212.9h0.8v0.8h-0.8zM219.2 212.2h0.8v0.8h-0.8zM217.4 215.2h0.8v0.8h-0.8zM217.3 208.5h0.8v0.8h-0.8zM216.1 208.6h0.8v0.8h-0.8zM218.2 212.6h0.8v0.8h-0.8zM215.4 208.9h0.8v0.8h-0.8zM215.8 214.0h0.8v0.8h-0.8zM217.3 210.5h0.8v0.8h-0.8zM219.1 214.3h0.8v0.8h-0.8zM218.2 211.0h0.8v0.8h-0.8zM218.3 208.4h0.8v0.8h-0.8zM254.4 213.2h0.8v0.8h-0.8zM254.4 207.2h0.8v0.8h-0.8zM255.0 210.3h0.8v0.8h-0.8zM255.8 208.4h0.8v0.8h-0.8zM254.4 213.1h0.8v0.8h-0.8zM254.0 208.6h0.8v0.8h-0.8zM253.1 215.4h0.8v0.8h-0.8zM252.7 208.6h0.8v0.8h-0.8zM252.9 210.9h0.8v0.8h-0.8zM255.4 212.9h0.8v0.8h-0.8zM254.1 207.7h0.8v0.8h-0.8zM254.3 208.3h0.8v0.8h-0.8zM253.4 209.5h0.8v0.8h-0.8zM253.1 212.2h0.8v0.8h-0.8zM254.4 207.3h0.8v0.8h-0.8zM255.7 208.3h0.8v0.8h-0.8zM254.5 213.2h0.8v0.8h-0.8zM253.7 213.5h0.8v0.8h-0.8zM252.3 210.6h0.8v0.8h-0.8zM253.5 210.9h0.8v0.8h-0.8zM253.7 213.6h0.8v0.8h-0.8zM254.6 207.3h0.8v0.8h-0.8zM255.5 210.0h0.8v0.8h-0.8zM253.5 213.9h0.8v0.8h-0.8zM254.5 215.5h0.8v0.8h-0.8zM254.3 214.1h0.8v0.8h-0.8zM255.6 214.0h0.8v0.8h-0.8zM254.1 215.0h0.8v0.8h-0.8zM254.5 214.7h0.8v0.8h-0.8zM254.3 213.0h0.8v0.8h-0.8zM254.7 210.5h0.8v0.8h-0.8zM254.9 214.7h0.8v0.8h-0.8zM255.4 213.5h0.8v0.8h-0.8zM255.6 210.5h0.8v0.8h-0.8zM254.0 215.5h0.8v0.8h-0.8zM255.8 213.6h0.8v0.8h-0.8zM254.8 210.4h0.8v0.8h-0.8zM253.7 214.1h0.8v0.8h-0.8zM255.1 212.0h0.8v0.8h-0.8zM255.0 215.4h0.8v0.8h-0.8zM253.3 212.8h0.8v0.8h-0.8zM254.1 209.3h0.8v0.8h-0.8zM255.1 213.3h0.8v0.8h-0.8zM253.6 209.2h0.8v0.8h-0.8zM254.4 210.6h0.8v0.8h-0.8zM253.1 213.0h0.8v0.8h-0.8zM254.1 208.4h0.8v0.8h-0.8zM253.0 213.3h0.8v0.8h-0.8zM256.1 210.9h0.8v0.8h-0.8zM255.1 208.9h0.8v0.8h-0.8zM254.3 212.8h0.8v0.8h-0.8zM252.6 208.4h0.8v0.8h-0.8zM253.5 214.4h0.8v0.8h-0.8zM253.6 215.0h0.8v0.8h-0.8zM254.4 213.1h0.8v0.8h-0.8zM255.2 210.6h0.8v0.8h-0.8zM255.5 210.2h0.8v0.8h-0.8zM254.0 215.5h0.8v0.8h-0.8zM253.9 209.2h0.8v0.8h-0.8zM253.1 212.9h0.8v0.8h-0.8zM253.6 209.1h0.8v0.8h-0.8zM253.4 212.2h0.8v0.8h-0.8zM255.2 211.4h0.8v0.8h-0.8zM252.5 211.6h0.8v0.8h-0.8zM254.0 207.4h0.8v0.8h-0.8zM253.1 207.7h0.8v0.8h-0.8zM252.8 214.9h0.8v0.8h-0.8zM254.3 208.0h0.8v0.8h-0.8zM254.1 215.5h0.8v0.8h-0.8zM254.1 208.5h0.8v0.8h-0.8zM254.6 212.5h0.8v0.8h-0.8zM252.9 213.8h0.8v0.8h-0.8zM252.1 210.5h0.8v0.8h-0.8zM254.5 215.3h0.8v0.8h-0.8zM254.4 208.4h0.8v0.8h-0.8zM254.7 208.5h0.8v0.8h-0.8zM255.2 213.2h0.8v0.8h-0.8zM253.8 215.2h0.8v0.8h-0.8zM254.3 212.6h0.8v0.8h-0.8zM255.2 213.0h0.8v0.8h-0.8zM254.0 212.7h0.8v0.8h-0.8zM252.3 208.8h0.8v0.8h-0.8zM254.1 209.0h0.8v0.8h-0.8zM255.1 215.0h0.8v0.8h-0.8zM257.1 211.9h0.8v0.8h-0.8zM255.7 212.4h0.8v0.8h-0.8zM254.6 212.7h0.8v0.8h-0.8zM252.2 208.9h0.8v0.8h-0.8zM255.7 212.4h0.8v0.8h-0.8zM255.8 212.6h0.8v0.8h-0.8zM254.7 212.6h0.8v0.8h-0.8zM254.3 214.8h0.8v0.8h-0.8zM252.5 213.4h0.8v0.8h-0.8zM251.4 209.4h0.8v0.8h-0.8zM253.1 209.2h0.8v0.8h-0.8zM253.6 211.8h0.8v0.8h-0.8zM254.6 210.0h0.8v0.8h-0.8zM253.8 211.4h0.8v0.8h-0.8zM254.5 207.6h0.8v0.8h-0.8zM255.0 210.4h0.8v0.8h-0.8z"/>
<path fill="#8a8a8a" d="M29.3 207.4h0.6v0.6h-0.6zM33.7 207.1h0.6v0.6h-0.6zM31.8 205.2h0.6v0.6h-0.6zM31.7 205.4h0.6v0.6h-0.6zM31.6 206.6h0.6v0.6h-0.6zM32.2 205.3h0.6v0.6h-0.6zM32.3 206.0h0.6v0.6h-0.6zM70.0 205.4h0.6v0.6h-0.6zM70.9 190.6h0.6v0.6h-0.6zM71.2 203.3h0.6v0.6h-0.6zM71.2 207.5h0.6v0.6h-0.6zM70.1 193.5h0.6v0.6h-0.6zM72.0 197.9h0.6v0.6h-0.6zM65.9 201.3h0.6v0.6h-0.6zM70.8 201.0h0.6v0.6h-0.6zM70.0 202.8h0.6v0.6h-0.6zM72.0 204.6h0.6v0.6h-0.6zM72.4 201.6h0.6v0.6h-0.6zM69.7 204.1h0.6v0.6h-0.6zM71.7 199.8h0.6v0.6h-0.6zM74.4 193.7h0.6v0.6h-0.6zM70.2 194.4h0.6v0.6h-0.6zM69.7 205.3h0.6v0.6h-0.6zM75.0 206.9h0.6v0.6h-0.6zM68.1 204.4h0.6v0.6h-0.6zM70.7 198.8h0.6v0.6h-0.6zM69.9 202.6h0.6v0.6h-0.6zM74.8 202.1h0.6v0.6h-0.6zM67.5 190.4h0.6v0.6h-0.6zM70.1 201.2h0.6v0.6h-0.6zM68.6 207.3h0.6v0.6h-0.6zM71.5 203.0h0.6v0.6h-0.6zM72.3 207.3h0.6v0.6h-0.6zM68.4 193.9h0.6v0.6h-0.6zM67.3 204.0h0.6v0.6h-0.6zM73.7 206.0h0.6v0.6h-0.6zM67.5 202.9h0.6v0.6h-0.6zM69.7 193.6h0.6v0.6h-0.6zM70.3 204.9h0.6v0.6h-0.6zM69.2 201.6h0.6v0.6h-0.6zM69.5 198.7h0.6v0.6h-0.6zM71.6 193.4h0.6v0.6h-0.6zM69.9 205.9h0.6v0.6h-0.6zM70.2 203.9h0.6v0.6h-0.6zM70.0 207.2h0.6v0.6h-0.6zM70.1 204.7h0.6v0.6h-0.6zM70.6 201.0h0.6v0.6h-0.6zM71.1 192.2h0.6v0.6h-0.6zM68.1 194.6h0.6v0.6h-0.6zM70.1 194.3h0.6v0.6h-0.6zM72.2 198.0h0.6v0.6h-0.6zM69.8 206.9h0.6v0.6h-0.6zM71.8 202.2h0.6v0.6h-0.6zM69.6 193.0h0.6v0.6h-0.6zM70.5 194.7h0.6v0.6h-0.6zM71.7 199.8h0.6v0.6h-0.6zM71.0 204.2h0.6v0.6h-0.6zM70.9 207.5h0.6v0.6h-0.6zM71.2 205.3h0.6v0.6h-0.6zM69.8 203.6h0.6v0.6h-0.6zM69.0 199.2h0.6v0.6h-0.6zM70.6 198.5h0.6v0.6h-0.6zM70.0 190.6h0.6v0.6h-0.6zM71.0 197.8h0.6v0.6h-0.6zM72.2 196.4h0.6v0.6h-0.6zM71.6 190.2h0.6v0.6h-0.6zM70.9 202.1h0.6v0.6h-0.6zM70.8 203.1h0.6v0.6h-0.6zM73.1 204.5h0.6v0.6h-0.6zM68.9 203.2h0.6v0.6h-0.6zM106.9 199.3h0.6v0.6h-0.6zM102.4 207.4h0.6v0.6h-0.6zM104.5 202.1h0.6v0.6h-0.6zM105.6 205.1h0.6v0.6h-0.6zM105.0 199.0h0.6v0.6h-0.6zM102.3 202.9h0.6v0.6h-0.6zM106.5 207.3h0.6v0.6h-0.6zM103.7 200.4h0.6v0.6h-0.6zM105.7 201.2h0.6v0.6h-0.6zM105.5 206.4h0.6v0.6h-0.6zM104.9 206.8h0.6v0.6h-0.6zM104.8 202.5h0.6v0.6h-0.6zM107.0 199.8h0.6v0.6h-0.6zM105.5 206.8h0.6v0.6h-0.6zM104.4 203.5h0.6v0.6h-0.6zM102.6 201.9h0.6v0.6h-0.6zM105.0 206.9h0.6v0.6h-0.6zM104.8 204.4h0.6v0.6h-0.6zM106.2 203.9h0.6v0.6h-0.6zM104.9 207.2h0.6v0.6h-0.6zM106.1 204.5h0.6v0.6h-0.6zM103.7 203.0h0.6v0.6h-0.6zM106.8 201.6h0.6v0.6h-0.6zM107.1 200.8h0.6v0.6h-0.6zM104.9 207.0h0.6v0.6h-0.6zM106.2 200.3h0.6v0.6h-0.6zM143.9 201.1h0.6v0.6h-0.6zM144.0 202.8h0.6v0.6h-0.6zM140.9 206.5h0.6v0.6h-0.6zM142.5 197.7h0.6v0.6h-0.6zM144.1 206.0h0.6v0.6h-0.6zM141.3 195.8h0.6v0.6h-0.6zM142.8 201.1h0.6v0.6h-0.6zM143.4 197.5h0.6v0.6h-0.6zM141.8 194.5h0.6v0.6h-0.6zM142.2 206.8h0.6v0.6h-0.6zM139.9 198.2h0.6v0.6h-0.6zM146.5 198.9h0.6v0.6h-0.6zM145.3 204.4h0.6v0.6h-0.6zM143.9 207.5h0.6v0.6h-0.6zM143.4 207.4h0.6v0.6h-0.6zM138.9 203.7h0.6v0.6h-0.6zM143.7 205.5h0.6v0.6h-0.6zM141.7 198.4h0.6v0.6h-0.6zM137.2 197.0h0.6v0.6h-0.6zM144.5 196.9h0.6v0.6h-0.6zM142.2 200.1h0.6v0.6h-0.6zM141.5 201.9h0.6v0.6h-0.6zM140.4 205.5h0.6v0.6h-0.6zM142.7 206.5h0.6v0.6h-0.6zM143.8 207.1h0.6v0.6h-0.6zM141.7 194.5h0.6v0.6h-0.6zM140.1 205.1h0.6v0.6h-0.6zM142.3 206.9h0.6v0.6h-0.6zM141.0 205.8h0.6v0.6h-0.6zM145.1 195.8h0.6v0.6h-0.6zM141.4 206.6h0.6v0.6h-0.6zM145.7 203.8h0.6v0.6h-0.6zM143.1 202.7h0.6v0.6h-0.6zM143.2 204.8h0.6v0.6h-0.6zM141.4 205.4h0.6v0.6h-0.6zM142.2 205.3h0.6v0.6h-0.6zM143.0 204.2h0.6v0.6h-0.6zM142.1 197.0h0.6v0.6h-0.6zM141.4 194.1h0.6v0.6h-0.6zM142.0 207.1h0.6v0.6h-0.6zM142.7 203.9h0.6v0.6h-0.6zM142.7 196.9h0.6v0.6h-0.6zM142.2 198.1h0.6v0.6h-0.6zM143.8 207.3h0.6v0.6h-0.6zM144.8 207.2h0.6v0.6h-0.6zM142.8 202.7h0.6v0.6h-0.6zM180.8 204.0h0.6v0.6h-0.6zM183.9 203.7h0.6v0.6h-0.6zM183.5 206.4h0.6v0.6h-0.6zM181.2 206.0h0.6v0.6h-0.6zM180.0 205.9h0.6v0.6h-0.6zM181.5 205.9h0.6v0.6h-0.6zM178.9 200.1h0.6v0.6h-0.6zM180.1 197.2h0.6v0.6h-0.6zM181.8 201.3h0.6v0.6h-0.6zM179.8 200.5h0.6v0.6h-0.6zM180.1 206.7h0.6v0.6h-0.6zM178.8 200.1h0.6v0.6h-0.6zM179.6 201.5h0.6v0.6h-0.6zM179.2 207.3h0.6v0.6h-0.6zM181.1 196.5h0.6v0.6h-0.6zM177.1 207.1h0.6v0.6h-0.6zM179.4 207.0h0.6v0.6h-0.6zM177.8 202.3h0.6v0.6h-0.6zM180.8 207.5h0.6v0.6h-0.6zM181.4 206.0h0.6v0.6h-0.6zM181.6 199.5h0.6v0.6h-0.6zM178.7 196.5h0.6v0.6h-0.6zM182.2 197.9h0.6v0.6h-0.6zM182.9 201.7h0.6v0.6h-0.6zM179.9 204.4h0.6v0.6h-0.6zM181.3 205.1h0.6v0.6h-0.6zM180.2 201.9h0.6v0.6h-0.6zM182.8 206.2h0.6v0.6h-0.6zM181.3 200.8h0.6v0.6h-0.6zM182.1 201.5h0.6v0.6h-0.6zM178.2 200.1h0.6v0.6h-0.6zM177.8 204.4h0.6v0.6h-0.6zM180.3 205.4h0.6v0.6h-0.6zM178.0 206.8h0.6v0.6h-0.6zM178.6 200.2h0.6v0.6h-0.6zM214.4 204.8h0.6v0.6h-0.6zM221.1 205.9h0.6v0.6h-0.6zM218.9 199.2h0.6v0.6h-0.6zM215.4 203.6h0.6v0.6h-0.6zM217.8 203.5h0.6v0.6h-0.6zM217.3 206.9h0.6v0.6h-0.6zM214.8 203.7h0.6v0.6h-0.6zM219.5 206.8h0.6v0.6h-0.6zM218.7 205.4h0.6v0.6h-0.6zM215.7 198.7h0.6v0.6h-0.6zM216.1 200.3h0.6v0.6h-0.6zM216.1 201.0h0.6v0.6h-0.6zM218.4 203.9h0.6v0.6h-0.6zM216.0 203.2h0.6v0.6h-0.6zM215.8 203.0h0.6v0.6h-0.6zM218.1 200.1h0.6v0.6h-0.6zM216.0 206.6h0.6v0.6h-0.6zM216.6 198.2h0.6v0.6h-0.6zM218.0 207.3h0.6v0.6h-0.6zM216.5 201.4h0.6v0.6h-0.6zM218.6 202.1h0.6v0.6h-0.6zM218.0 201.3h0.6v0.6h-0.6zM218.0 207.0h0.6v0.6h-0.6zM219.0 207.5h0.6v0.6h-0.6zM219.0 207.3h0.6v0.6h-0.6zM218.1 205.6h0.6v0.6h-0.6zM219.7 204.8h0.6v0.6h-0.6zM213.6 207.4h0.6v0.6h-0.6zM216.0 206.7h0.6v0.6h-0.6zM215.0 207.1h0.6v0.6h-0.6zM218.2 204.7h0.6v0.6h-0.6zM216.4 205.7h0.6v0.6h-0.6zM216.7 207.4h0.6v0.6h-0.6zM217.1 206.9h0.6v0.6h-0.6zM216.8 202.7h0.6v0.6h-0.6zM252.0 198.7h0.6v0.6h-0.6zM253.9 202.0h0.6v0.6h-0.6zM254.6 198.6h0.6v0.6h-0.6zM257.6 199.8h0.6v0.6h-0.6zM253.3 205.6h0.6v0.6h-0.6zM251.6 196.4h0.6v0.6h-0.6zM253.7 199.3h0.6v0.6h-0.6zM253.0 204.6h0.6v0.6h-0.6zM257.0 206.4h0.6v0.6h-0.6zM255.1 204.6h0.6v0.6h-0.6zM255.5 203.2h0.6v0.6h-0.6zM255.0 199.1h0.6v0.6h-0.6zM257.1 201.5h0.6v0.6h-0.6zM252.9 204.8h0.6v0.6h-0.6zM255.0 205.7h0.6v0.6h-0.6zM253.5 202.9h0.6v0.6h-0.6zM252.5 207.1h0.6v0.6h-0.6zM255.4 206.3h0.6v0.6h-0.6zM255.6 206.3h0.6v0.6h-0.6zM254.1 199.2h0.6v0.6h-0.6zM253.9 200.7h0.6v0.6h-0.6zM254.9 206.7h0.6v0.6h-0.6zM254.9 207.0h0.6v0.6h-0.6zM252.2 201.0h0.6v0.6h-0.6zM255.3 203.0h0.6v0.6h-0.6zM253.9 203.1h0.6v0.6h-0.6zM258.4 207.4h0.6v0.6h-0.6zM252.4 205.0h0.6v0.6h-0.6zM254.5 203.6h0.6v0.6h-0.6zM252.3 202.9h0.6v0.6h-0.6zM254.3 197.8h0.6v0.6h-0.6zM253.9 204.9h0.6v0.6h-0.6zM252.0 200.2h0.6v0.6h-0.6zM254.6 197.9h0.6v0.6h-0.6z"/>
<line x1="15.00" y1="223.30" x2="268.50" y2="223.30" stroke="#555" stroke-width="0.9"/>
<polygon points="267.5,221.9 267.5,224.7 271,223.3" fill="#333"/>
<text x="134.30" y="231.10" font-size="5.5" text-anchor="start" fill="#1a1a1a" font-weight="normal" stroke="#1a1a1a" stroke-width="0.13" >DX5</text>
<text x="0.30" y="263.00" font-size="11.8" text-anchor="start" fill="#000" font-weight="bold" stroke="#000" stroke-width="0.2" >C</text>
<rect x="125.60" y="267.80" width="54.40" height="4.00" fill="#000" />
<text x="119.70" y="272.10" font-size="5.6" text-anchor="end" fill="#1a1a1a" font-weight="normal" stroke="#1a1a1a" stroke-width="0.13" >diffDC+NK+anti-IL-10+anti-IL-12</text>
<rect x="125.60" y="276.42" width="89.40" height="4.00" fill="#000" />
<text x="119.70" y="280.72" font-size="5.6" text-anchor="end" fill="#1a1a1a" font-weight="normal" stroke="#1a1a1a" stroke-width="0.13" >diffDC+NK+anti-IL-12</text>
<rect x="125.60" y="285.04" width="63.40" height="4.00" fill="#000" />
<text x="119.70" y="289.34" font-size="5.6" text-anchor="end" fill="#1a1a1a" font-weight="normal" stroke="#1a1a1a" stroke-width="0.13" >diffDC+NK+anti-IL-10</text>
<rect x="125.60" y="293.66" width="100.60" height="4.00" fill="#000" />
<text x="119.70" y="297.96" font-size="5.6" text-anchor="end" fill="#1a1a1a" font-weight="normal" stroke="#1a1a1a" stroke-width="0.13" >diffDC+NK</text>
<rect x="125.60" y="302.28" width="7.20" height="4.00" fill="#000" />
<text x="119.70" y="306.58" font-size="5.6" text-anchor="end" fill="#1a1a1a" font-weight="normal" stroke="#1a1a1a" stroke-width="0.13" >diffDC</text>
<rect x="125.60" y="310.90" width="7.90" height="4.00" fill="#000" />
<text x="119.70" y="315.20" font-size="5.6" text-anchor="end" fill="#1a1a1a" font-weight="normal" stroke="#1a1a1a" stroke-width="0.13" >NK</text>
<line x1="125.10" y1="266.00" x2="125.10" y2="316.70" stroke="#dadada" stroke-width="0.8"/>
<line x1="125.10" y1="316.70" x2="240.00" y2="316.70" stroke="#c8c8c8" stroke-width="1.0"/>
<text x="125.80" y="325.20" font-size="5.6" text-anchor="middle" fill="#1a1a1a" font-weight="normal" stroke="#1a1a1a" stroke-width="0.13" >0</text>
<text x="140.80" y="325.20" font-size="5.6" text-anchor="middle" fill="#1a1a1a" font-weight="normal" stroke="#1a1a1a" stroke-width="0.13" >50</text>
<text x="156.00" y="325.20" font-size="5.6" text-anchor="middle" fill="#1a1a1a" font-weight="normal" stroke="#1a1a1a" stroke-width="0.13" >100</text>
<text x="170.30" y="325.20" font-size="5.6" text-anchor="middle" fill="#1a1a1a" font-weight="normal" stroke="#1a1a1a" stroke-width="0.13" >150</text>
<text x="184.00" y="325.20" font-size="5.6" text-anchor="middle" fill="#1a1a1a" font-weight="normal" stroke="#1a1a1a" stroke-width="0.13" >200</text>
<text x="198.00" y="325.20" font-size="5.6" text-anchor="middle" fill="#1a1a1a" font-weight="normal" stroke="#1a1a1a" stroke-width="0.13" >250</text>
<text x="212.00" y="325.20" font-size="5.6" text-anchor="middle" fill="#1a1a1a" font-weight="normal" stroke="#1a1a1a" stroke-width="0.13" >300</text>
<text x="225.60" y="325.20" font-size="5.6" text-anchor="middle" fill="#1a1a1a" font-weight="normal" stroke="#1a1a1a" stroke-width="0.13" >350</text>
<text x="238.40" y="325.20" font-size="5.6" text-anchor="middle" fill="#1a1a1a" font-weight="normal" stroke="#1a1a1a" stroke-width="0.13" >400</text>
<text x="163.80" y="335.60" font-size="5.6" fill="#1a1a1a" stroke="#1a1a1a" stroke-width="0.13">IFN-γ<tspan dx="2.76">(pg/mL)</tspan></text>
<line x1="180.00" y1="269.80" x2="181.40" y2="269.80" stroke="#666" stroke-width="0.6"/>
<line x1="181.40" y1="268.50" x2="181.40" y2="271.10" stroke="#555" stroke-width="0.7"/>
<circle cx="184.60" cy="269.80" r="0.85" fill="#3a3a3a"/>
<line x1="215.00" y1="278.42" x2="218.50" y2="278.42" stroke="#666" stroke-width="0.6"/>
<line x1="218.50" y1="277.12" x2="218.50" y2="279.72" stroke="#555" stroke-width="0.7"/>
<line x1="189.00" y1="287.04" x2="191.50" y2="287.04" stroke="#666" stroke-width="0.6"/>
<line x1="191.50" y1="285.74" x2="191.50" y2="288.34" stroke="#555" stroke-width="0.7"/>
<circle cx="194.80" cy="287.04" r="0.85" fill="#3a3a3a"/>
<line x1="226.20" y1="295.66" x2="229.80" y2="295.66" stroke="#666" stroke-width="0.6"/>
<line x1="229.80" y1="294.36" x2="229.80" y2="296.96" stroke="#555" stroke-width="0.7"/>
<line x1="216.00" y1="278.42" x2="218.50" y2="278.42" stroke="#444" stroke-width="0.5"/>
<polyline points="187.00,269.70 236.60,269.70 236.60,295.40 232.30,295.40" fill="none" stroke="#808080" stroke-width="0.8"/>
<polyline points="198.00,286.50 233.60,286.50 233.60,295.40" fill="none" stroke="#808080" stroke-width="0.8"/>
<text x="296.30" y="9.30" font-size="11.8" text-anchor="start" fill="#000" font-weight="bold" stroke="#000" stroke-width="0.2" >D</text>
<rect x="396.50" y="14.10" width="48.30" height="3.80" fill="#000" />
<text x="391.20" y="18.90" font-size="5.6" text-anchor="end" fill="#1a1a1a" font-weight="normal" stroke="#1a1a1a" stroke-width="0.13" >LPS-diffDC+NK+anti-IL-10+anti-IL-12</text>
<rect x="396.50" y="22.70" width="86.00" height="3.80" fill="#000" />
<text x="391.20" y="27.50" font-size="5.6" text-anchor="end" fill="#1a1a1a" font-weight="normal" stroke="#1a1a1a" stroke-width="0.13" >LPS-diffDC+NK+anti-IL-12</text>
<rect x="396.50" y="31.30" width="50.50" height="3.80" fill="#000" />
<text x="391.20" y="36.10" font-size="5.6" text-anchor="end" fill="#1a1a1a" font-weight="normal" stroke="#1a1a1a" stroke-width="0.13" >LPS-diffDC+NK+anti-IL-10</text>
<rect x="396.50" y="39.90" width="94.30" height="3.80" fill="#000" />
<text x="391.20" y="44.70" font-size="5.6" text-anchor="end" fill="#1a1a1a" font-weight="normal" stroke="#1a1a1a" stroke-width="0.13" >LPS-diffDC+NK</text>
<rect x="396.50" y="48.50" width="3.50" height="3.80" fill="#000" />
<text x="391.20" y="53.30" font-size="5.6" text-anchor="end" fill="#1a1a1a" font-weight="normal" stroke="#1a1a1a" stroke-width="0.13" >LPS-diffDC</text>
<rect x="396.50" y="57.10" width="2.50" height="3.80" fill="#000" />
<text x="391.20" y="61.90" font-size="5.6" text-anchor="end" fill="#1a1a1a" font-weight="normal" stroke="#1a1a1a" stroke-width="0.13" >NK</text>
<line x1="396.00" y1="13.00" x2="396.00" y2="63.10" stroke="#dadada" stroke-width="0.8"/>
<line x1="396.00" y1="63.10" x2="513.50" y2="63.10" stroke="#c8c8c8" stroke-width="1.0"/>
<text x="396.20" y="72.20" font-size="5.6" text-anchor="middle" fill="#1a1a1a" font-weight="normal" stroke="#1a1a1a" stroke-width="0.13" >0</text>
<text x="416.00" y="72.20" font-size="5.6" text-anchor="middle" fill="#1a1a1a" font-weight="normal" stroke="#1a1a1a" stroke-width="0.13" >200</text>
<text x="435.50" y="72.20" font-size="5.6" text-anchor="middle" fill="#1a1a1a" font-weight="normal" stroke="#1a1a1a" stroke-width="0.13" >400</text>
<text x="455.50" y="72.20" font-size="5.6" text-anchor="middle" fill="#1a1a1a" font-weight="normal" stroke="#1a1a1a" stroke-width="0.13" >600</text>
<text x="474.60" y="72.20" font-size="5.6" text-anchor="middle" fill="#1a1a1a" font-weight="normal" stroke="#1a1a1a" stroke-width="0.13" >800</text>
<text x="494.50" y="72.20" font-size="5.6" text-anchor="middle" fill="#1a1a1a" font-weight="normal" stroke="#1a1a1a" stroke-width="0.13" >1000</text>
<text x="514.00" y="72.20" font-size="5.6" text-anchor="middle" fill="#1a1a1a" font-weight="normal" stroke="#1a1a1a" stroke-width="0.13" >1200</text>
<text x="434.80" y="83.00" font-size="5.6" fill="#1a1a1a" stroke="#1a1a1a" stroke-width="0.13">IFN-γ<tspan dx="2.76">(pg/mL)</tspan></text>
<line x1="444.80" y1="16.00" x2="446.50" y2="16.00" stroke="#666" stroke-width="0.6"/>
<line x1="446.50" y1="14.70" x2="446.50" y2="17.30" stroke="#555" stroke-width="0.7"/>
<circle cx="449.50" cy="16.00" r="0.85" fill="#3a3a3a"/>
<circle cx="452.50" cy="16.00" r="0.85" fill="#3a3a3a"/>
<line x1="482.50" y1="24.60" x2="485.00" y2="24.60" stroke="#666" stroke-width="0.6"/>
<line x1="485.00" y1="23.30" x2="485.00" y2="25.90" stroke="#555" stroke-width="0.7"/>
<line x1="447.00" y1="33.20" x2="448.70" y2="33.20" stroke="#666" stroke-width="0.6"/>
<line x1="448.70" y1="31.90" x2="448.70" y2="34.50" stroke="#555" stroke-width="0.7"/>
<circle cx="451.30" cy="33.20" r="0.85" fill="#3a3a3a"/>
<line x1="490.80" y1="41.80" x2="493.00" y2="41.80" stroke="#666" stroke-width="0.6"/>
<line x1="493.00" y1="40.50" x2="493.00" y2="43.10" stroke="#555" stroke-width="0.7"/>
<polyline points="455.00,15.60 505.50,15.60 505.50,42.00 495.00,42.00" fill="none" stroke="#808080" stroke-width="0.8"/>
<polyline points="453.00,32.60 499.80,32.60 499.80,42.00" fill="none" stroke="#808080" stroke-width="0.8"/>
<text x="296.00" y="121.80" font-size="11.8" text-anchor="start" fill="#000" font-weight="bold" stroke="#000" stroke-width="0.2" >E</text>
<rect x="361.00" y="128.60" width="49.00" height="3.80" fill="#000" />
<text x="357.70" y="133.00" font-size="5.6" text-anchor="end" fill="#1a1a1a" font-weight="normal" stroke="#1a1a1a" stroke-width="0.13" >IL-10-/-diffDC+NK+IL-10</text>
<rect x="361.00" y="136.80" width="7.00" height="3.80" fill="#000" />
<text x="357.70" y="141.20" font-size="5.6" text-anchor="end" fill="#1a1a1a" font-weight="normal" stroke="#1a1a1a" stroke-width="0.13" >IL-10-/-diffDC+IL-10</text>
<rect x="361.00" y="145.00" width="29.80" height="3.80" fill="#000" />
<text x="357.70" y="149.40" font-size="5.6" text-anchor="end" fill="#1a1a1a" font-weight="normal" stroke="#1a1a1a" stroke-width="0.13" >IL-10-/-diffDC+NK</text>
<rect x="361.00" y="153.20" width="53.50" height="3.80" fill="#000" />
<text x="357.70" y="157.60" font-size="5.6" text-anchor="end" fill="#1a1a1a" font-weight="normal" stroke="#1a1a1a" stroke-width="0.13" >diffDC+NK</text>
<rect x="361.00" y="161.40" width="6.80" height="3.80" fill="#000" />
<text x="357.70" y="165.80" font-size="5.6" text-anchor="end" fill="#1a1a1a" font-weight="normal" stroke="#1a1a1a" stroke-width="0.13" >IL-10-/-diffDC</text>
<rect x="361.00" y="169.60" width="5.80" height="3.80" fill="#000" />
<text x="357.70" y="174.00" font-size="5.6" text-anchor="end" fill="#1a1a1a" font-weight="normal" stroke="#1a1a1a" stroke-width="0.13" >diffDC</text>
<rect x="361.00" y="177.80" width="6.00" height="3.80" fill="#000" />
<text x="357.70" y="182.20" font-size="5.6" text-anchor="end" fill="#1a1a1a" font-weight="normal" stroke="#1a1a1a" stroke-width="0.13" >IL-10+NK</text>
<rect x="361.00" y="186.00" width="6.80" height="3.80" fill="#000" />
<text x="357.70" y="190.40" font-size="5.6" text-anchor="end" fill="#1a1a1a" font-weight="normal" stroke="#1a1a1a" stroke-width="0.13" >NK</text>
<line x1="360.50" y1="127.00" x2="360.50" y2="190.80" stroke="#dadada" stroke-width="0.8"/>
<line x1="360.50" y1="190.80" x2="427.00" y2="190.80" stroke="#c8c8c8" stroke-width="1.0"/>
<text x="360.20" y="197.40" font-size="5.6" text-anchor="middle" fill="#1a1a1a" font-weight="normal" stroke="#1a1a1a" stroke-width="0.13" >0</text>
<text x="374.40" y="197.40" font-size="5.6" text-anchor="middle" fill="#1a1a1a" font-weight="normal" stroke="#1a1a1a" stroke-width="0.13" >50</text>
<text x="386.80" y="197.40" font-size="5.6" text-anchor="middle" fill="#1a1a1a" font-weight="normal" stroke="#1a1a1a" stroke-width="0.13" >100</text>
<text x="400.20" y="197.40" font-size="5.6" text-anchor="middle" fill="#1a1a1a" font-weight="normal" stroke="#1a1a1a" stroke-width="0.13" >150</text>
<text x="412.60" y="197.40" font-size="5.6" text-anchor="middle" fill="#1a1a1a" font-weight="normal" stroke="#1a1a1a" stroke-width="0.13" >200</text>
<text x="426.70" y="197.40" font-size="5.6" text-anchor="middle" fill="#1a1a1a" font-weight="normal" stroke="#1a1a1a" stroke-width="0.13" >250</text>
<text x="379.20" y="208.00" font-size="5.6" fill="#1a1a1a" stroke="#1a1a1a" stroke-width="0.13">IFN-γ<tspan dx="2.76">(pg/mL)</tspan></text>
<line x1="410.00" y1="130.50" x2="411.60" y2="130.50" stroke="#666" stroke-width="0.6"/>
<line x1="411.60" y1="129.20" x2="411.60" y2="131.80" stroke="#555" stroke-width="0.7"/>
<line x1="390.80" y1="146.90" x2="392.30" y2="146.90" stroke="#666" stroke-width="0.6"/>
<line x1="392.30" y1="145.60" x2="392.30" y2="148.20" stroke="#555" stroke-width="0.7"/>
<circle cx="394.60" cy="146.90" r="0.85" fill="#3a3a3a"/>
<line x1="414.50" y1="155.10" x2="416.20" y2="155.10" stroke="#666" stroke-width="0.6"/>
<line x1="416.20" y1="153.80" x2="416.20" y2="156.40" stroke="#555" stroke-width="0.7"/>
<polyline points="413.00,130.40 425.00,130.40 425.00,146.80 396.00,146.80" fill="none" stroke="#808080" stroke-width="0.8"/>
<polyline points="421.30,146.80 421.30,154.80 418.00,154.80" fill="none" stroke="#808080" stroke-width="0.8"/>
<polyline points="403.70,146.80 403.70,163.20 372.00,163.20" fill="none" stroke="#808080" stroke-width="0.8"/>
<polyline points="408.50,146.80 408.50,187.70 372.00,187.70" fill="none" stroke="#808080" stroke-width="0.8"/>
<text x="296.00" y="249.00" font-size="11.8" text-anchor="start" fill="#000" font-weight="bold" stroke="#000" stroke-width="0.2" >F</text>
<rect x="374.80" y="255.80" width="48.70" height="3.90" fill="#000" />
<text x="371.20" y="260.45" font-size="5.6" text-anchor="end" fill="#1a1a1a" font-weight="normal" stroke="#1a1a1a" stroke-width="0.13" >LPS-IL-10-/-diffDC+NK+IL-10</text>
<rect x="374.80" y="263.98" width="3.00" height="3.90" fill="#000" />
<text x="371.20" y="268.63" font-size="5.6" text-anchor="end" fill="#1a1a1a" font-weight="normal" stroke="#1a1a1a" stroke-width="0.13" >LPS-IL-10-/-diffDC+IL-10</text>
<rect x="374.80" y="272.16" width="25.20" height="3.90" fill="#000" />
<text x="371.20" y="276.81" font-size="5.6" text-anchor="end" fill="#1a1a1a" font-weight="normal" stroke="#1a1a1a" stroke-width="0.13" >LPS-IL-10-/-diffDC+NK</text>
<rect x="374.80" y="280.34" width="51.20" height="3.90" fill="#000" />
<text x="371.20" y="284.99" font-size="5.6" text-anchor="end" fill="#1a1a1a" font-weight="normal" stroke="#1a1a1a" stroke-width="0.13" >LPS-diffDC+NK</text>
<rect x="374.80" y="288.52" width="3.00" height="3.90" fill="#000" />
<text x="371.20" y="293.17" font-size="5.6" text-anchor="end" fill="#1a1a1a" font-weight="normal" stroke="#1a1a1a" stroke-width="0.13" >LPS-IL-10-/-diffDC</text>
<rect x="374.80" y="296.70" width="2.20" height="3.90" fill="#000" />
<text x="371.20" y="301.35" font-size="5.6" text-anchor="end" fill="#1a1a1a" font-weight="normal" stroke="#1a1a1a" stroke-width="0.13" >LPS-diffDC</text>
<rect x="374.80" y="304.88" width="2.20" height="3.90" fill="#000" />
<text x="371.20" y="309.53" font-size="5.6" text-anchor="end" fill="#1a1a1a" font-weight="normal" stroke="#1a1a1a" stroke-width="0.13" >IL-10+NK</text>
<rect x="374.80" y="313.06" width="2.40" height="3.90" fill="#000" />
<text x="371.20" y="317.71" font-size="5.6" text-anchor="end" fill="#1a1a1a" font-weight="normal" stroke="#1a1a1a" stroke-width="0.13" >NK</text>
<line x1="374.30" y1="255.00" x2="374.30" y2="318.70" stroke="#dadada" stroke-width="0.8"/>
<line x1="374.30" y1="318.70" x2="433.00" y2="318.70" stroke="#c8c8c8" stroke-width="1.0"/>
<text x="374.70" y="325.30" font-size="5.6" text-anchor="middle" fill="#1a1a1a" font-weight="normal" stroke="#1a1a1a" stroke-width="0.13" >0</text>
<text x="384.50" y="325.30" font-size="5.6" text-anchor="middle" fill="#1a1a1a" font-weight="normal" stroke="#1a1a1a" stroke-width="0.13" >100</text>
<text x="394.30" y="325.30" font-size="5.6" text-anchor="middle" fill="#1a1a1a" font-weight="normal" stroke="#1a1a1a" stroke-width="0.13" >200</text>
<text x="404.10" y="325.30" font-size="5.6" text-anchor="middle" fill="#1a1a1a" font-weight="normal" stroke="#1a1a1a" stroke-width="0.13" >300</text>
<text x="413.90" y="325.30" font-size="5.6" text-anchor="middle" fill="#1a1a1a" font-weight="normal" stroke="#1a1a1a" stroke-width="0.13" >400</text>
<text x="423.70" y="325.30" font-size="5.6" text-anchor="middle" fill="#1a1a1a" font-weight="normal" stroke="#1a1a1a" stroke-width="0.13" >500</text>
<text x="433.50" y="325.30" font-size="5.6" text-anchor="middle" fill="#1a1a1a" font-weight="normal" stroke="#1a1a1a" stroke-width="0.13" >600</text>
<text x="380.60" y="336.20" font-size="5.6" fill="#1a1a1a" stroke="#1a1a1a" stroke-width="0.13">IFN-γ<tspan dx="2.76">(pg/mL)</tspan></text>
<line x1="423.50" y1="257.75" x2="425.80" y2="257.75" stroke="#666" stroke-width="0.6"/>
<line x1="425.80" y1="256.45" x2="425.80" y2="259.05" stroke="#555" stroke-width="0.7"/>
<line x1="400.00" y1="274.11" x2="401.20" y2="274.11" stroke="#666" stroke-width="0.6"/>
<line x1="401.20" y1="272.81" x2="401.20" y2="275.41" stroke="#555" stroke-width="0.7"/>
<circle cx="402.90" cy="274.11" r="0.85" fill="#3a3a3a"/>
<line x1="426.00" y1="282.29" x2="428.00" y2="282.29" stroke="#666" stroke-width="0.6"/>
<line x1="428.00" y1="280.99" x2="428.00" y2="283.59" stroke="#555" stroke-width="0.7"/>
<polyline points="428.00,257.90 439.30,257.90 439.30,274.50 404.00,274.50" fill="none" stroke="#808080" stroke-width="0.8"/>
<polyline points="433.50,274.50 433.50,282.80 429.50,282.80" fill="none" stroke="#808080" stroke-width="0.8"/>
<polyline points="413.50,274.50 413.50,290.60 381.00,290.60" fill="none" stroke="#808080" stroke-width="0.8"/>
<polyline points="421.00,274.50 421.00,315.20 380.00,315.20" fill="none" stroke="#808080" stroke-width="0.8"/>
</svg></body></html>
